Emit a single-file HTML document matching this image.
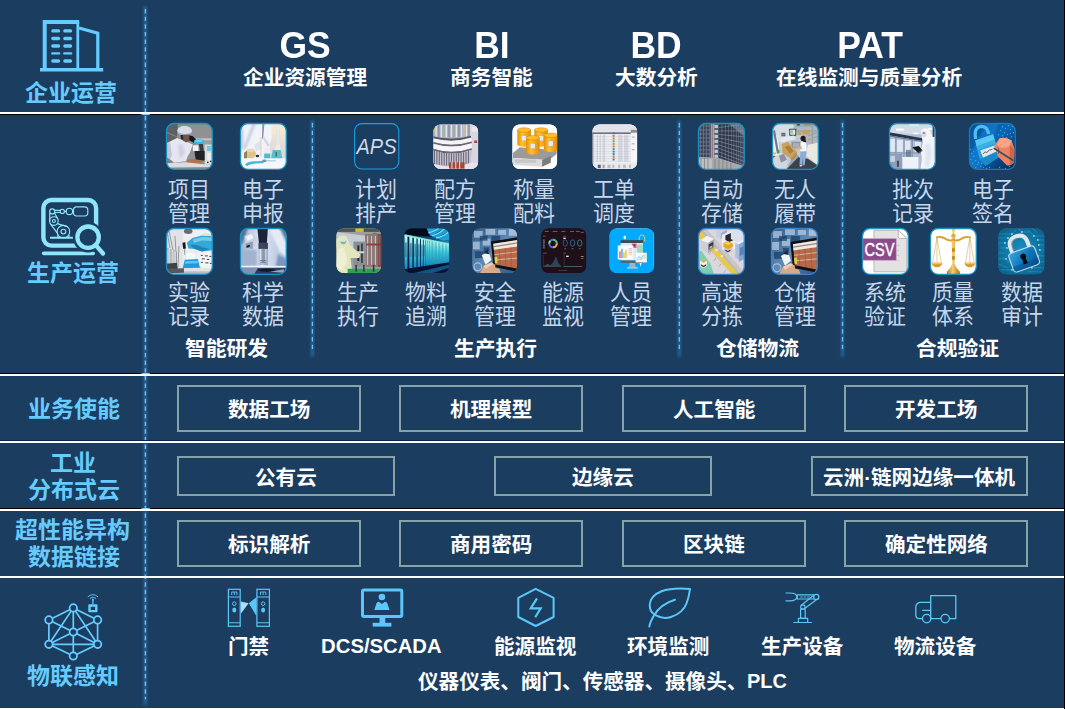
<!DOCTYPE html>
<html lang="zh"><head><meta charset="utf-8"><title>Industrial platform architecture</title>
<style>
html,body{margin:0;padding:0;background:#1b3d60;}
body{width:1065px;height:709px;overflow:hidden;position:relative;font-family:"Liberation Sans",sans-serif;}
#s{position:absolute;left:0;top:0;width:1065px;height:709px;background:#1b3d60;overflow:hidden}
.ln{position:absolute;left:0;width:1064px}
.t{position:absolute;overflow:visible}
.ov{position:absolute;left:0;top:0}
.lat{position:absolute;width:300px;text-align:center;color:#fff;font-weight:bold;line-height:1;white-space:nowrap;font-family:"Liberation Sans",sans-serif}
.bx{position:absolute;border:2px solid #88a3a8}
text.cb{font-family:"Liberation Sans","Noto Sans CJK SC",sans-serif;font-weight:bold;font-size:1000px}
text.cr{font-family:"Liberation Sans","Noto Sans CJK SC",sans-serif;font-weight:normal;font-size:1000px}
</style></head>
<body>
<svg width="0" height="0" style="position:absolute"><defs>
<clipPath id="cp"><rect x=".5" y=".5" width="46" height="46" rx="7.5"/></clipPath>
<filter id="f0" x="-20%" y="-20%" width="140%" height="140%"><feGaussianBlur stdDeviation=".5"/></filter>
<filter id="f1" x="-30%" y="-30%" width="160%" height="160%"><feGaussianBlur stdDeviation="1.3"/></filter>
<linearGradient id="gx1" x1="0" y1="0" x2="1" y2="1"><stop offset="0" stop-color="#7d8186"/><stop offset="1" stop-color="#a7a9ad"/></linearGradient>
<linearGradient id="gx2" x1="0" y1="0" x2="0" y2="1"><stop offset="0" stop-color="#fbeed4"/><stop offset=".5" stop-color="#eadfd6"/><stop offset="1" stop-color="#ddd5d6"/></linearGradient>
<linearGradient id="gdr" x1="0" y1="0" x2="1" y2="0"><stop offset="0" stop-color="#e98f00"/><stop offset=".35" stop-color="#ffc230"/><stop offset="1" stop-color="#e58a00"/></linearGradient>
<linearGradient id="gx7" x1="0" y1="0" x2="1" y2="0"><stop offset="0" stop-color="#4e5a6e"/><stop offset=".35" stop-color="#5a677c"/><stop offset="1" stop-color="#2b3546"/></linearGradient>
<linearGradient id="gx10" x1="0" y1="0" x2="1" y2="1"><stop offset="0" stop-color="#084c90"/><stop offset=".45" stop-color="#0c66b6"/><stop offset="1" stop-color="#052450"/></linearGradient>
<linearGradient id="gx12" x1="0" y1="0" x2="1" y2="0"><stop offset="0" stop-color="#a3b4d3"/><stop offset=".45" stop-color="#dfe6f3"/><stop offset="1" stop-color="#aebdda"/></linearGradient>
<linearGradient id="gx12c" x1="0" y1="0" x2="1" y2="0"><stop offset="0" stop-color="#a9b6d0"/><stop offset=".35" stop-color="#f4f6fb"/><stop offset=".7" stop-color="#cdd6e7"/><stop offset="1" stop-color="#8f9fbf"/></linearGradient>
<linearGradient id="gx14" x1="0" y1="0" x2="1" y2="0"><stop offset="0" stop-color="#071a3c"/><stop offset="1" stop-color="#1c6a9c"/></linearGradient>
<linearGradient id="gx14b" x1="0" y1="0" x2="0" y2="1"><stop offset="0" stop-color="#c9fff6"/><stop offset=".45" stop-color="#3fcfe0"/><stop offset="1" stop-color="#1787c0"/></linearGradient>
<linearGradient id="gx15" x1="0" y1="0" x2="1" y2="1"><stop offset="0" stop-color="#2f5988"/><stop offset=".5" stop-color="#5f8ab6"/><stop offset="1" stop-color="#2c5486"/></linearGradient>
<linearGradient id="gx21" x1="0" y1="0" x2="1" y2="0"><stop offset="0" stop-color="#b87a18"/><stop offset=".45" stop-color="#f4cf6a"/><stop offset="1" stop-color="#b07214"/></linearGradient>
<radialGradient id="gx22" cx=".5" cy=".5" r=".75"><stop offset="0" stop-color="#1b94c4"/><stop offset="1" stop-color="#095680"/></radialGradient>
<linearGradient id="gx22b" x1="0" y1="0" x2="1" y2="1"><stop offset="0" stop-color="#35a8e0"/><stop offset=".5" stop-color="#0f78bc"/><stop offset="1" stop-color="#0a4f8c"/></linearGradient>

</defs></svg>
<div id="s">
<svg class="ov" width="1065" height="709" viewBox="0 0 1065 709">
<line x1="145.4" y1="8" x2="145.4" y2="703.3" stroke="#3f8fcc" stroke-opacity=".16" stroke-width="5.85" stroke-linecap="round"/><line x1="145.4" y1="8.5" x2="145.4" y2="702.3" stroke="#3f8fcc" stroke-opacity=".22" stroke-width="3.35" stroke-linecap="round"/><line x1="145.4" y1="9" x2="145.4" y2="699.3" stroke="#5ec8fa" stroke-width="1.35" stroke-dasharray="4.4 3.243"/>
<line x1="312.4" y1="122" x2="312.4" y2="355" stroke="#3f8fcc" stroke-opacity=".16" stroke-width="5.75" stroke-linecap="round"/><line x1="312.4" y1="122.5" x2="312.4" y2="354" stroke="#3f8fcc" stroke-opacity=".22" stroke-width="3.25" stroke-linecap="round"/><line x1="312.4" y1="123" x2="312.4" y2="351" stroke="#5ec8fa" stroke-width="1.25" stroke-dasharray="4.4 3.243"/>
<line x1="679.3" y1="122" x2="679.3" y2="355" stroke="#3f8fcc" stroke-opacity=".16" stroke-width="5.75" stroke-linecap="round"/><line x1="679.3" y1="122.5" x2="679.3" y2="354" stroke="#3f8fcc" stroke-opacity=".22" stroke-width="3.25" stroke-linecap="round"/><line x1="679.3" y1="123" x2="679.3" y2="351" stroke="#5ec8fa" stroke-width="1.25" stroke-dasharray="4.4 3.243"/>
<line x1="842.5" y1="122" x2="842.5" y2="355" stroke="#3f8fcc" stroke-opacity=".16" stroke-width="5.75" stroke-linecap="round"/><line x1="842.5" y1="122.5" x2="842.5" y2="354" stroke="#3f8fcc" stroke-opacity=".22" stroke-width="3.25" stroke-linecap="round"/><line x1="842.5" y1="123" x2="842.5" y2="351" stroke="#5ec8fa" stroke-width="1.25" stroke-dasharray="4.4 3.243"/>
</svg>
<div class="ln" style="top:112px;height:2px;background:#fff"></div>
<div class="ln" style="top:114px;height:1px;background:#000"></div>
<div class="ln" style="top:373px;height:1px;background:#000"></div>
<div class="ln" style="top:374px;height:2px;background:#fff"></div>
<div class="ln" style="top:440px;height:1px;background:#0a2450"></div>
<div class="ln" style="top:441px;height:2px;background:#fff"></div>
<div class="ln" style="top:508px;height:1px;background:#000"></div>
<div class="ln" style="top:509px;height:2px;background:#fff"></div>
<div class="ln" style="top:576px;height:2px;background:#fff"></div>
<div class="ln" style="top:708px;height:1px;background:#fff"></div>
<div style="position:absolute;left:1064px;top:0;width:1px;height:709px;background:#000"></div>
<div style="position:absolute;left:141px;top:114px;width:9px;height:1px;background:linear-gradient(90deg,#2a6aa0,#7fd6ff 30%,#7fd6ff 70%,#18c8d8)"></div>
<div style="position:absolute;left:141px;top:373px;width:9px;height:1px;background:linear-gradient(90deg,#2a6aa0,#7fd6ff 30%,#7fd6ff 70%,#18c8d8)"></div>
<div style="position:absolute;left:141px;top:508px;width:9px;height:1px;background:linear-gradient(90deg,#2a6aa0,#7fd6ff 30%,#7fd6ff 70%,#18c8d8)"></div>
<svg class="t" style="left:25.30px;top:77.54px" width="92.00" height="28.52" viewBox="0 -1000 4000 1240" preserveAspectRatio="none"><text class="cb" x="0" y="0" fill="#66ccff">企业运营</text></svg>
<svg class="t" style="left:27.10px;top:257.54px" width="92.00" height="28.52" viewBox="0 -1000 4000 1240" preserveAspectRatio="none"><text class="cb" x="0" y="0" fill="#66ccff">生产运营</text></svg>
<svg class="t" style="left:27.60px;top:393.74px" width="92.00" height="28.52" viewBox="0 -1000 4000 1240" preserveAspectRatio="none"><text class="cb" x="0" y="0" fill="#66ccff">业务使能</text></svg>
<svg class="t" style="left:50.40px;top:447.74px" width="46.00" height="28.52" viewBox="0 -1000 2000 1240" preserveAspectRatio="none"><text class="cb" x="0" y="0" fill="#66ccff">工业</text></svg>
<svg class="t" style="left:27.60px;top:474.74px" width="92.00" height="28.52" viewBox="0 -1000 4000 1240" preserveAspectRatio="none"><text class="cb" x="0" y="0" fill="#66ccff">分布式云</text></svg>
<svg class="t" style="left:15.30px;top:514.74px" width="115.00" height="28.52" viewBox="0 -1000 5000 1240" preserveAspectRatio="none"><text class="cb" x="0" y="0" fill="#66ccff">超性能异构</text></svg>
<svg class="t" style="left:27.60px;top:541.74px" width="92.00" height="28.52" viewBox="0 -1000 4000 1240" preserveAspectRatio="none"><text class="cb" x="0" y="0" fill="#66ccff">数据链接</text></svg>
<svg class="t" style="left:27.10px;top:660.74px" width="92.00" height="28.52" viewBox="0 -1000 4000 1240" preserveAspectRatio="none"><text class="cb" x="0" y="0" fill="#66ccff">物联感知</text></svg>
<div class="lat" style="left:155.10px;top:26.80px;font-size:37.33px;transform:scaleX(.95);">GS</div>
<div class="lat" style="left:341.70px;top:26.80px;font-size:37.33px;transform:scaleX(.95);">BI</div>
<div class="lat" style="left:506.00px;top:26.80px;font-size:37.33px;transform:scaleX(.95);">BD</div>
<div class="lat" style="left:720.00px;top:26.80px;font-size:37.33px;transform:scaleX(.95);">PAT</div>
<svg class="t" style="left:242.90px;top:63.87px" width="124.20" height="25.67" viewBox="0 -1000 6000 1240" preserveAspectRatio="none"><text class="cb" x="0" y="0" fill="#ffffff">企业资源管理</text></svg>
<svg class="t" style="left:450.10px;top:63.87px" width="82.80" height="25.67" viewBox="0 -1000 4000 1240" preserveAspectRatio="none"><text class="cb" x="0" y="0" fill="#ffffff">商务智能</text></svg>
<svg class="t" style="left:614.60px;top:63.87px" width="82.80" height="25.67" viewBox="0 -1000 4000 1240" preserveAspectRatio="none"><text class="cb" x="0" y="0" fill="#ffffff">大数分析</text></svg>
<svg class="t" style="left:776.35px;top:63.87px" width="186.30" height="25.67" viewBox="0 -1000 9000 1240" preserveAspectRatio="none"><text class="cb" x="0" y="0" fill="#ffffff">在线监测与质量分析</text></svg>
<svg class="t" style="left:166.15px;top:123.25px" width="46.8" height="46.8" viewBox="0 0 47 47" preserveAspectRatio="none"><g clip-path="url(#cp)"><rect width="47" height="47" fill="#8f9193"/>
<rect width="47" height="47" fill="#8f9193"/>
<path d="M0 0 H12 L11 15 L0 22z" fill="#5d6165" filter="url(#f0)"/>
<path d="M0 9 L11 14" stroke="#8a8e92" stroke-width=".8"/>
<rect x="30" y="15.400" width="17" height="2.200" fill="#c3c5c7" filter="url(#f0)"/>
<rect x="30" y="17.600" width="17" height="12" fill="#9d9fa1"/>
<path d="M1 20 L11 15 L19.800 18.500 L27 21.600 L24 30 L22 33 L20 38.500 L7 40 L0 34z" fill="#e6e6f2" filter="url(#f0)"/>
<path d="M0 22 L4 19 L6 32 L3 40 L0 40z" fill="#c4c4d6" filter="url(#f0)"/>
<path d="M12 22 L17 21 L19 30 L14 37z" fill="#cfcfe2" filter="url(#f1)"/>
<path d="M0 34 L8 39.500 L0 41z" fill="#7b7f84"/>
<ellipse cx="18.700" cy="7.900" rx="7.400" ry="4.900" fill="#d9dde9" filter="url(#f0)"/>
<path d="M12 9 Q18 13 25 9.500 L25 11 Q18 14.500 12.500 11z" fill="#a9b1c2" filter="url(#f0)"/>
<path d="M15.500 12 L23.500 11.500 L24 18 L20 19.500 L16.500 17z" fill="#6f5549" filter="url(#f0)"/>
<path d="M14.500 12 L17 12 L17.500 17 L15 16z" fill="#2c2624"/>
<path d="M23.400 12.200 L27 13.200 L30.200 16.500 L27.800 19.900 L23.400 17.400z" fill="#15171d"/>
<ellipse cx="33" cy="18.800" rx="5.200" ry="2.500" fill="#2fb0e0"/>
<ellipse cx="33" cy="18" rx="4" ry="1.300" fill="#6fd3f2"/>
<rect x="27" y="22.300" width="5.500" height="6" rx="1" fill="#f1f1f8" filter="url(#f0)"/>
<path d="M33 21 L37 21 L38 28 L34 28z" fill="#3a3e44"/>
<rect x="38.800" y="21.600" width="7.200" height="20" fill="#d9dddc"/>
<rect x="41" y="23" width="4.500" height="5.200" fill="#74c9e2"/>
<rect x="41.500" y="30" width="3.500" height="8" fill="#eceeed"/>
<circle cx="42" cy="39.500" r=".8" fill="#1c1c20"/><circle cx="45" cy="38.500" r=".8" fill="#1c1c20"/>
<path d="M28.500 28.200 H38.800 V37.700 H30z" fill="#202428" filter="url(#f0)"/>
<path d="M21.200 38 Q24 35.500 29 36.500 L36 37.500 L35.500 41 L22 41.400z" fill="#b1714f" filter="url(#f0)"/>
<path d="M0 40.500 L20 39.300 L38 41.400 L47 41.400 L47 44.500 L0 45z" fill="#dcdce0"/>
<path d="M0 45 L47 44.500 V47 H0z" fill="#8e9688"/>
</g><rect x=".5" y=".5" width="46" height="46" rx="7.5" fill="none" stroke="#1f8fc0" stroke-width="1.300"/></svg>
<svg class="t" style="left:168.15px;top:174.78px" width="42.00" height="27.34" viewBox="0 -1000 2000 1240" preserveAspectRatio="none"><text class="cr" x="0" y="0" fill="#c6d6ea">项目</text></svg>
<svg class="t" style="left:168.15px;top:198.88px" width="42.00" height="27.34" viewBox="0 -1000 2000 1240" preserveAspectRatio="none"><text class="cr" x="0" y="0" fill="#c6d6ea">管理</text></svg>
<svg class="t" style="left:240.30px;top:123.25px" width="46.8" height="46.8" viewBox="0 0 47 47" preserveAspectRatio="none"><g clip-path="url(#cp)"><rect width="47" height="47" fill="#eef0f7"/>
<rect width="47" height="47" fill="#eef0f7"/>
<rect x="30" y="0" width="17" height="36" fill="url(#gx2)"/>
<path d="M0 0 H31 L32 14 L29 24 L31 30 L20 35 L0 36z" fill="#f1f3f9"/>
<path d="M13 0 L16 0 L9 18 L5 27 L3 26z" fill="#c3cbe2" filter="url(#f1)"/>
<path d="M0 6 L3 4 L4 24 L0 30z" fill="#c9d0e3" filter="url(#f1)"/>
<path d="M22.500 1 L24.500 1 L23.300 15 L22 16z" fill="#8a92aa" filter="url(#f0)"/>
<path d="M24 13 L30 22 L28 24 L23 16z" fill="#d3d9ea" filter="url(#f0)"/>
<path d="M14 22 L20 18 L22 26 L16 28z" fill="#dfe3f0" filter="url(#f0)"/>
<path d="M37.200 7 L39.200 7 L39.800 22 L42.500 36 L31.200 36 L36.600 22z" fill="#e6f1f2" opacity=".85"/>
<path d="M32.800 27 L41 27 L42.500 36 L31.200 36z" fill="#58bfd0"/>
<rect x="35.700" y="29" width="1.300" height="4.500" fill="#6b5a3a"/>
<path d="M37.200 7 V22 M39.200 7 V22" stroke="#cfdadd" stroke-width=".5"/>
<rect x="24.300" y="25.500" width="6" height="10.500" fill="#e4eef2" opacity=".9"/>
<rect x="24.300" y="30.700" width="6" height="5.300" fill="#52b9d1"/>
<rect x="20.600" y="14.300" width=".9" height="19" fill="#d9c9a6"/>
<ellipse cx="10.500" cy="31" rx="5.400" ry="4.800" fill="#dfc189" filter="url(#f0)"/>
<ellipse cx="11" cy="27.500" rx="3.500" ry="1.800" fill="#ecd7b0" filter="url(#f0)"/>
<path d="M4 30 L7 28 L7 36 L4 36z" fill="#8d8460" filter="url(#f0)"/>
<rect x="0" y="35.500" width="47" height="11.500" fill="#f5f7fb"/>
<ellipse cx="17.500" cy="33.200" rx="1.800" ry="1.200" fill="#2f3640"/>
<path d="M5 41.500 Q9 37.800 17 38.500 L23 38 Q25 39.500 23 40.500 L16 40.800 Q9 41.500 7 43.500z" fill="#49b7d7" filter="url(#f0)"/>
<ellipse cx="24.500" cy="38" rx="2.200" ry="1.300" fill="#8a9098"/>
<path d="M26 38 H36" stroke="#6bbfd2" stroke-width=".8"/>
</g><rect x=".5" y=".5" width="46" height="46" rx="7.5" fill="none" stroke="#1f8fc0" stroke-width="1.300"/></svg>
<svg class="t" style="left:242.30px;top:174.78px" width="42.00" height="27.34" viewBox="0 -1000 2000 1240" preserveAspectRatio="none"><text class="cr" x="0" y="0" fill="#c6d6ea">电子</text></svg>
<svg class="t" style="left:242.30px;top:198.88px" width="42.00" height="27.34" viewBox="0 -1000 2000 1240" preserveAspectRatio="none"><text class="cr" x="0" y="0" fill="#c6d6ea">申报</text></svg>
<svg class="t" style="left:353.90px;top:123.35px" width="45.4" height="46.6" viewBox="0 0 47 47" preserveAspectRatio="none"><rect x=".6" y=".6" width="45.8" height="45.8" rx="7.5" fill="none" stroke="#189fe4" stroke-width="1.1"/><text x="23.300" y="31.400" font-family="Liberation Sans, sans-serif" font-style="italic" font-size="22.200" text-anchor="middle" fill="#cfdbea" transform="translate(23.300 0) scale(.93 1) translate(-23.300 0)">APS</text></svg>
<svg class="t" style="left:355.20px;top:174.78px" width="42.00" height="27.34" viewBox="0 -1000 2000 1240" preserveAspectRatio="none"><text class="cr" x="0" y="0" fill="#c6d6ea">计划</text></svg>
<svg class="t" style="left:355.20px;top:198.88px" width="42.00" height="27.34" viewBox="0 -1000 2000 1240" preserveAspectRatio="none"><text class="cr" x="0" y="0" fill="#c6d6ea">排产</text></svg>
<svg class="t" style="left:432.85px;top:123.85px" width="45.6" height="45.6" viewBox="0 0 47 47" preserveAspectRatio="none"><g clip-path="url(#cp)"><rect width="47" height="47" fill="#b9b5c5"/>
<rect width="47" height="47" fill="#b9b5c5"/>
<rect x="0" y="0" width="40" height="14" fill="#aab0be"/>
<rect x="2.5" y="1" width="1.500" height="12.500" fill="#dfe3ea"/><rect x="5.2" y="1" width="1.500" height="12.500" fill="#8b93a6"/><rect x="7.8" y="1" width="1.500" height="12.500" fill="#dfe3ea"/><rect x="10.4" y="1" width="1.500" height="12.500" fill="#a5b79a"/><rect x="13.0" y="1" width="1.500" height="12.500" fill="#e4e7ee"/><rect x="15.6" y="1" width="1.500" height="12.500" fill="#8b93a6"/><rect x="18.2" y="1" width="1.500" height="12.500" fill="#dfe3ea"/><rect x="20.8" y="1" width="1.500" height="12.500" fill="#9db09a"/><rect x="23.4" y="1" width="1.500" height="12.500" fill="#e4e7ee"/><rect x="26.0" y="1" width="1.500" height="12.500" fill="#8b93a6"/><rect x="28.6" y="1" width="1.500" height="12.500" fill="#dfe3ea"/><rect x="31.2" y="1" width="1.500" height="12.500" fill="#c8c8a0"/><rect x="33.8" y="1" width="1.500" height="12.500" fill="#dfe3ea"/><rect x="36.4" y="1" width="1.500" height="12.500" fill="#8b93a6"/>
<rect x="0" y="5" width="2.200" height="3" fill="#d8cf3a"/>
<rect x="38" y="0" width="9" height="47" fill="#dad6de"/>
<rect x="40" y="3" width="7" height="5" fill="#efe6e8"/>
<rect x="42.500" y="17" width="3" height="2.600" fill="#a8443a"/>
<path d="M0 12.500 Q20 17.500 39 12 L39.500 14.500 Q20 20.500 0 15z" fill="#5b5565"/>
<path d="M0 14.600 Q20 20 39.500 14 L40 18 Q20 24.500 0 18.600z" fill="#f3f3f8"/>
<path d="M0 18.600 Q20 24.500 40 18 L40 19.800 Q20 26.300 0 20.400z" fill="#6a6474"/>
<path d="M0 20.400 Q20 26.300 40 19.800 L40 25 Q20 32 0 25.600z" fill="#f6f6fa"/>
<path d="M0 25.600 Q20 32 40 25 L40 26.800 Q20 33.800 0 27.400z" fill="#6a6474"/>
<path d="M0 27.400 Q20 33.800 40 26.800 L39 40 Q20 47 0 41z" fill="#c5c1cf"/>
<path d="M1.5 27.5 V41.5" stroke="#4f4a5c" stroke-width=".8"/><path d="M4.0 28.1 V41.9" stroke="#4f4a5c" stroke-width=".8"/><path d="M6.5 28.7 V42.2" stroke="#4f4a5c" stroke-width=".8"/><path d="M9.0 29.2 V42.5" stroke="#4f4a5c" stroke-width=".8"/><path d="M11.5 29.6 V42.8" stroke="#4f4a5c" stroke-width=".8"/><path d="M14.0 29.9 V42.9" stroke="#4f4a5c" stroke-width=".8"/><path d="M16.5 30.1 V43.1" stroke="#4f4a5c" stroke-width=".8"/><path d="M19.0 30.2 V43.1" stroke="#4f4a5c" stroke-width=".8"/><path d="M21.5 30.2 V43.1" stroke="#4f4a5c" stroke-width=".8"/><path d="M24.0 30.1 V43.1" stroke="#4f4a5c" stroke-width=".8"/><path d="M26.5 29.9 V42.9" stroke="#4f4a5c" stroke-width=".8"/><path d="M29.0 29.6 V42.8" stroke="#4f4a5c" stroke-width=".8"/><path d="M31.5 29.2 V42.5" stroke="#4f4a5c" stroke-width=".8"/><path d="M34.0 28.7 V42.2" stroke="#4f4a5c" stroke-width=".8"/><path d="M36.5 28.1 V41.9" stroke="#4f4a5c" stroke-width=".8"/>
<path d="M0 41 Q20 47 39 40 L47 40 L47 47 L0 47z" fill="#e6e4ea"/>
<rect x="16.500" y="39.500" width="16" height="6.500" fill="#a2483a" filter="url(#f0)"/>
<g fill="#e9e6ec"><rect x="19" y="39" width="1" height="7"/><rect x="23" y="39" width="1" height="7"/><rect x="27" y="39" width="1" height="7"/></g>
</g></svg>
<svg class="t" style="left:434.25px;top:174.78px" width="42.00" height="27.34" viewBox="0 -1000 2000 1240" preserveAspectRatio="none"><text class="cr" x="0" y="0" fill="#c6d6ea">配方</text></svg>
<svg class="t" style="left:434.25px;top:198.88px" width="42.00" height="27.34" viewBox="0 -1000 2000 1240" preserveAspectRatio="none"><text class="cr" x="0" y="0" fill="#c6d6ea">管理</text></svg>
<svg class="t" style="left:511.90px;top:123.85px" width="45.6" height="45.6" viewBox="0 0 47 47" preserveAspectRatio="none"><g clip-path="url(#cp)"><rect width="47" height="47" fill="#fff"/>
<rect width="47" height="47" fill="#fdfdfd"/>
<path d="M1 30 L8 24 L46 27 L46 31 L38 37 L1 35z" fill="#9b9b9b"/>
<path d="M1 35 L31 37 L31 44 L1 42z" fill="#dcdcdc"/>
<path d="M31 37 L40 33 L40 40 L31 44z" fill="#7d7d7d"/>
<rect x="3" y="36.500" width="22" height="3.500" fill="#bdbdbd" opacity=".7"/>
<path d="M5.5 6.2 V21 A7 2.4 0 0 0 19.5 21 V6.2z" fill="url(#gdr)"/><ellipse cx="12.5" cy="6.2" rx="7" ry="2.3" fill="#ffbe2e" stroke="#c98200" stroke-width=".5"/><rect x="9.8" y="12" width="5" height="5.400" fill="#e9e9ee" stroke="#9a9aa6" stroke-width=".3"/><path d="M23 6.2 V21 A7 2.4 0 0 0 37 21 V6.2z" fill="url(#gdr)"/><ellipse cx="30" cy="6.2" rx="7" ry="2.3" fill="#ffbe2e" stroke="#c98200" stroke-width=".5"/><rect x="27.3" y="12" width="5" height="5.400" fill="#e9e9ee" stroke="#9a9aa6" stroke-width=".3"/><path d="M33 11.7 V26.5 A7 2.4 0 0 0 47 26.5 V11.7z" fill="url(#gdr)"/><ellipse cx="40" cy="11.7" rx="7" ry="2.3" fill="#ffbe2e" stroke="#c98200" stroke-width=".5"/><rect x="37.3" y="17.5" width="5" height="5.400" fill="#e9e9ee" stroke="#9a9aa6" stroke-width=".3"/><path d="M14.5 14.2 V29 A7 2.4 0 0 0 28.5 29 V14.2z" fill="url(#gdr)"/><ellipse cx="21.5" cy="14.2" rx="7" ry="2.3" fill="#ffbe2e" stroke="#c98200" stroke-width=".5"/><rect x="18.8" y="20" width="5" height="5.400" fill="#e9e9ee" stroke="#9a9aa6" stroke-width=".3"/></g></svg>
<svg class="t" style="left:513.30px;top:174.78px" width="42.00" height="27.34" viewBox="0 -1000 2000 1240" preserveAspectRatio="none"><text class="cr" x="0" y="0" fill="#c6d6ea">称量</text></svg>
<svg class="t" style="left:513.30px;top:198.88px" width="42.00" height="27.34" viewBox="0 -1000 2000 1240" preserveAspectRatio="none"><text class="cr" x="0" y="0" fill="#c6d6ea">配料</text></svg>
<svg class="t" style="left:591.55px;top:123.85px" width="45.6" height="45.6" viewBox="0 0 47 47" preserveAspectRatio="none"><g clip-path="url(#cp)"><rect width="47" height="47" fill="#eceef2"/>
<rect width="47" height="47" fill="#eceef2"/>
<rect x="0" y="0" width="47" height="8" fill="#e2e4ea"/>
<rect x="0" y="8.6" width="40" height="1.700" fill="#6e727c"/>
<rect x="0" y="9" width="1.3" height="34" fill="#50545c"/>
<rect x="2" y="13" width="41" height=".5" fill="#c9ccd3"/><rect x="2" y="15.5" width="41" height=".5" fill="#c9ccd3"/><rect x="2" y="18" width="41" height=".5" fill="#c9ccd3"/><rect x="2" y="20.5" width="41" height=".5" fill="#c9ccd3"/><rect x="2" y="23" width="41" height=".5" fill="#c9ccd3"/><rect x="2" y="25.5" width="41" height=".5" fill="#c9ccd3"/><rect x="2" y="28" width="41" height=".5" fill="#c9ccd3"/><rect x="2" y="30.5" width="41" height=".5" fill="#c9ccd3"/><rect x="2" y="33" width="41" height=".5" fill="#c9ccd3"/><rect x="2" y="35.5" width="41" height=".5" fill="#c9ccd3"/><rect x="2" y="38" width="41" height=".5" fill="#c9ccd3"/>
<g fill="#b9bcc6"><rect x="5" y="11" width=".7" height="28"/><rect x="8" y="11" width=".7" height="28"/><rect x="11" y="11" width="2.5" height="28" opacity=".5"/><rect x="27" y="11" width="4.500" height="28" opacity=".45"/><rect x="33" y="11" width="4.500" height="28" opacity=".45"/></g>
<rect x="21.300" y="8.5" width="2" height="2.1" fill="#3a78c8"/><rect x="21.300" y="11.2" width="2" height="2.1" fill="#e8772e"/><rect x="21.300" y="13.9" width="2" height="2.1" fill="#e8772e"/><rect x="21.300" y="16.6" width="2" height="2.1" fill="#3fbf8f"/><rect x="21.300" y="19.3" width="2" height="2.1" fill="#e8772e"/><rect x="21.300" y="22.0" width="2" height="2.1" fill="#e8772e"/><rect x="21.300" y="24.7" width="2" height="2.1" fill="#3aa85a"/><rect x="21.300" y="27.4" width="2" height="2.1" fill="#3a78c8"/><rect x="21.300" y="30.1" width="2" height="2.1" fill="#3a78c8"/><rect x="21.300" y="32.8" width="2" height="2.1" fill="#e8772e"/><rect x="21.300" y="35.5" width="2" height="2.1" fill="#3a78c8"/>
<rect x="40" y="6" width="7" height="3" fill="#8a8e98"/>
<rect x="40" y="10" width="7" height="30" fill="#f4f5f8"/>
<rect x="41" y="13" width="3" height="1" fill="#b0a890"/><rect x="41" y="20" width="3" height="1" fill="#b0a890"/><rect x="41" y="26" width="3" height="1" fill="#b0a890"/>
<rect x="0" y="40.500" width="47" height="6.500" fill="#e7e9ee"/>
<g fill="#9a9ea8"><rect x="6" y="42" width="3" height="3.500" fill="#5c606a"/><rect x="11" y="42" width="2" height="3.500"/><rect x="16" y="42" width="3" height="3.500" opacity=".6"/><rect x="21" y="42" width="2" height="3.500" opacity=".6"/><rect x="27" y="42" width="2" height="3.500" opacity=".6"/><rect x="32" y="42" width="3" height="3.500" opacity=".6"/><rect x="38" y="42" width="2" height="3.500" opacity=".6"/></g>
</g></svg>
<svg class="t" style="left:592.95px;top:174.78px" width="42.00" height="27.34" viewBox="0 -1000 2000 1240" preserveAspectRatio="none"><text class="cr" x="0" y="0" fill="#c6d6ea">工单</text></svg>
<svg class="t" style="left:592.95px;top:198.88px" width="42.00" height="27.34" viewBox="0 -1000 2000 1240" preserveAspectRatio="none"><text class="cr" x="0" y="0" fill="#c6d6ea">调度</text></svg>
<svg class="t" style="left:697.95px;top:123.25px" width="46.8" height="46.8" viewBox="0 0 47 47" preserveAspectRatio="none"><g clip-path="url(#cp)"><rect width="47" height="47" fill="#4a5568"/>
<rect width="47" height="47" fill="url(#gx7)"/>
<rect x="0" y="0" width="12.500" height="36" fill="#3b4459"/>
<path d="M0 3 H12.500" stroke="#8f9bb0" stroke-width=".7" opacity=".8"/><path d="M0 7 H12.500" stroke="#8f9bb0" stroke-width=".7" opacity=".8"/><path d="M0 11 H12.500" stroke="#8f9bb0" stroke-width=".7" opacity=".8"/><path d="M0 15 H12.500" stroke="#8f9bb0" stroke-width=".7" opacity=".8"/><path d="M0 19 H12.500" stroke="#8f9bb0" stroke-width=".7" opacity=".8"/><path d="M0 23 H12.500" stroke="#8f9bb0" stroke-width=".7" opacity=".8"/><path d="M0 27 H12.500" stroke="#8f9bb0" stroke-width=".7" opacity=".8"/><path d="M0 31 H12.500" stroke="#8f9bb0" stroke-width=".7" opacity=".8"/><path d="M0 35 H12.500" stroke="#8f9bb0" stroke-width=".7" opacity=".8"/><path d="M2.5 0 V36" stroke="#7d889d" stroke-width=".7" opacity=".8"/><path d="M5.5 0 V36" stroke="#7d889d" stroke-width=".7" opacity=".8"/><path d="M8.5 0 V36" stroke="#7d889d" stroke-width=".7" opacity=".8"/><path d="M11.5 0 V36" stroke="#7d889d" stroke-width=".7" opacity=".8"/>
<rect x="12.500" y="0" width="8.500" height="38" fill="#566275"/>
<g fill="#cfdcea" opacity=".85"><rect x="16.500" y="2" width="3.500" height="3"/><rect x="16.500" y="7" width="3.500" height="3"/><rect x="16.500" y="12" width="3.500" height="3"/><rect x="16.500" y="17" width="3.500" height="3"/><rect x="16.500" y="22" width="3.500" height="3"/><rect x="16.500" y="27" width="3.500" height="3"/><rect x="16.500" y="32" width="3.500" height="3"/></g>
<rect x="13" y="0" width="1.200" height="38" fill="#a9b3c6" opacity=".8"/>
<rect x="14.600" y="0" width="1.700" height="39" fill="#d4968c"/>
<path d="M21 0 H47 V44 L21 35z" fill="#2c3547"/>
<path d="M30 0 H47 V14z" fill="#8a94a6" opacity=".6" filter="url(#f0)"/>
<path d="M21 1 L47 -6" stroke="#98a3b6" stroke-width=".8" opacity=".7"/><path d="M21 4.5 L47 1" stroke="#98a3b6" stroke-width=".8" opacity=".7"/><path d="M21 8 L47 8" stroke="#98a3b6" stroke-width=".8" opacity=".7"/><path d="M21 11.5 L47 14" stroke="#98a3b6" stroke-width=".8" opacity=".7"/><path d="M21 15 L47 20" stroke="#98a3b6" stroke-width=".8" opacity=".7"/><path d="M21 18.5 L47 25.5" stroke="#98a3b6" stroke-width=".8" opacity=".7"/><path d="M21 22 L47 30.5" stroke="#98a3b6" stroke-width=".8" opacity=".7"/><path d="M21 25.5 L47 35" stroke="#98a3b6" stroke-width=".8" opacity=".7"/><path d="M21 29 L47 39" stroke="#98a3b6" stroke-width=".8" opacity=".7"/><path d="M21 32.5 L47 42.5" stroke="#98a3b6" stroke-width=".8" opacity=".7"/><path d="M24 0 V36" stroke="#8d98ab" stroke-width=".7" opacity=".65"/><path d="M27.5 0 V37" stroke="#8d98ab" stroke-width=".7" opacity=".65"/><path d="M30.5 0 V38" stroke="#8d98ab" stroke-width=".7" opacity=".65"/><path d="M33.5 0 V39" stroke="#8d98ab" stroke-width=".7" opacity=".65"/><path d="M36 0 V40" stroke="#8d98ab" stroke-width=".7" opacity=".65"/><path d="M38.5 0 V41" stroke="#8d98ab" stroke-width=".7" opacity=".65"/><path d="M40.5 0 V41.5" stroke="#8d98ab" stroke-width=".7" opacity=".65"/><path d="M42.5 0 V42" stroke="#8d98ab" stroke-width=".7" opacity=".65"/><path d="M44.3 0 V43" stroke="#8d98ab" stroke-width=".7" opacity=".65"/><path d="M46 0 V43" stroke="#8d98ab" stroke-width=".7" opacity=".65"/>
<path d="M0 34 L21 35.500 L47 43.500 V47 H0z" fill="#a9a9ab"/>
<path d="M0 36 L14 36.500 L14 47 L0 47z" fill="#c9c9cb" opacity=".7"/>
<g stroke="#77777b" stroke-width=".7"><path d="M3 35V47M6.500 35V47M10 35.500V47M17 36V47M21 36.500V47M25 37.500V47M29 39V47M33 40V47"/></g>
</g><rect x=".5" y=".5" width="46" height="46" rx="7.5" fill="none" stroke="#1f8fc0" stroke-width="1.300"/></svg>
<svg class="t" style="left:700.65px;top:174.78px" width="42.00" height="27.34" viewBox="0 -1000 2000 1240" preserveAspectRatio="none"><text class="cr" x="0" y="0" fill="#c6d6ea">自动</text></svg>
<svg class="t" style="left:700.65px;top:198.88px" width="42.00" height="27.34" viewBox="0 -1000 2000 1240" preserveAspectRatio="none"><text class="cr" x="0" y="0" fill="#c6d6ea">存储</text></svg>
<svg class="t" style="left:771.55px;top:123.25px" width="46.8" height="46.8" viewBox="0 0 47 47" preserveAspectRatio="none"><g clip-path="url(#cp)"><rect width="47" height="47" fill="#c3cad2"/>
<rect width="47" height="47" fill="#c3cad2"/>
<path d="M0 0 H22 L20 14 L8 19 L0 18z" fill="#d9dde2"/>
<path d="M22 0 H47 V22 L36 24 L30 12 L22 12z" fill="#aeb6c0"/>
<g stroke="#8d97a3" stroke-width=".8"><path d="M24 3 H45 M25 8 H45 M36 13 L47 9 M36 17 L47 13"/></g>
<rect x="25" y="0" width="3" height="2.500" fill="#3a3f46"/><rect x="32" y="0" width="8" height="2.600" fill="#b9934f"/>
<rect x="31" y="6.900" width="6.800" height="4.500" fill="#c9a15f"/>
<rect x="26" y="8" width="3" height="4" fill="#c0a46c"/>
<rect x="39.700" y="0" width="1.600" height="31" fill="#9aa3ad"/>
<rect x="38.500" y="15.500" width="1.500" height="2.500" fill="#d9b23a"/><rect x="36" y="22.500" width="2" height="2" fill="#d9b23a"/>
<rect x="17.400" y="5.800" width="6.900" height="6.900" rx=".5" fill="#2f3740"/>
<rect x="18.300" y="6.700" width="5.100" height="5.100" fill="#dfeaf2"/><rect x="19" y="7.500" width="2" height="3" fill="#7fc2a8"/>
<rect x="9.500" y="9.900" width="3.900" height="3.400" fill="#48525c"/><rect x="10.200" y="10.600" width="2.500" height="2" fill="#5f9aa0"/>
<path d="M8 15 L22 12.500 L24 16 L9 20z" fill="#e4e7eb"/>
<path d="M0 14 L6 12 L8 34 L0 38z" fill="#e9ecf0"/>
<path d="M1 8 L3 7 L7 30 L5 31z" fill="#707a86"/>
<rect x="5" y="27" width="2.600" height="3.400" fill="#3fa552"/><rect x="1" y="33" width="2.600" height="2.600" fill="#c9423a"/><rect x="1" y="29.500" width="3" height="2" fill="#d9c25a"/>
<rect x="19.600" y="18.800" width="9" height="6.200" fill="#8a94a4"/>
<path d="M21 20 H27.500 V24 H21z" fill="#a5aebb"/>
<path d="M9.900 21 L15.800 18.800 L24.800 28.500 L18.800 36 L10.600 30z" fill="#c9a159"/>
<path d="M13 24 L17 22.500 L22 28.500 L18 31z" fill="#a9803f"/>
<path d="M18.800 36 L24.800 28.500 L25 33 L19.500 39z" fill="#b38a48"/>
<path d="M0 36 L9 30 L16 36 L14 47 L0 47z" fill="#d3d8dd"/>
<path d="M7 33 L12 31 L15 37 L9 40z" fill="#8a93a3"/>
<path d="M14 47 L19 38 L26 32 L28 36 L20 47z" fill="#9aa4b0"/>
<path d="M36 21.800 L47 19.500 V43 L34.500 33z" fill="#e9e9e2"/>
<path d="M14.300 47 L26.300 34.500 L36 36 L47 43.500 V47z" fill="#38414d"/>
<ellipse cx="31.200" cy="15.600" rx="2.600" ry="2.700" fill="#1f1a19"/>
<path d="M32 16 L34.500 18 L33.500 21 L31 19z" fill="#1f1a19"/>
<path d="M28.800 19.500 Q31 18 34.300 19.500 L34.800 28.500 L28.500 28.800z" fill="#f4f5f7"/>
<path d="M29.500 23 L20.500 25.300 L20.800 26.800 L30 26z" fill="#d8a98a"/>
<path d="M28.500 28.500 L34.800 28.300 L33.500 37 L32.800 42.500 L30.500 42.500 L31 35 L30 42 L27.600 41.600z" fill="#8fadd3"/>
<ellipse cx="29" cy="43" rx="1.500" ry=".7" fill="#e9e9ee"/>
</g><rect x=".5" y=".5" width="46" height="46" rx="7.5" fill="none" stroke="#1f8fc0" stroke-width="1.300"/></svg>
<svg class="t" style="left:774.25px;top:174.78px" width="42.00" height="27.34" viewBox="0 -1000 2000 1240" preserveAspectRatio="none"><text class="cr" x="0" y="0" fill="#c6d6ea">无人</text></svg>
<svg class="t" style="left:774.25px;top:198.88px" width="42.00" height="27.34" viewBox="0 -1000 2000 1240" preserveAspectRatio="none"><text class="cr" x="0" y="0" fill="#c6d6ea">履带</text></svg>
<svg class="t" style="left:889.40px;top:123.25px" width="46.8" height="46.8" viewBox="0 0 47 47" preserveAspectRatio="none"><g clip-path="url(#cp)"><rect width="47" height="47" fill="#bcc8da"/>
<rect width="47" height="47" fill="#bcc8da"/>
<path d="M0 0 H47 V12 L0 10z" fill="#d3dbe8"/>
<rect x="7" y="5.500" width="8" height="2.200" rx="1" fill="#fbfdff" filter="url(#f0)"/><rect x="20" y=".5" width="10" height="2" rx="1" fill="#fbfdff" filter="url(#f0)"/><rect x="24" y="9.500" width="6" height="1.800" rx=".9" fill="#f4f8fd" filter="url(#f0)"/><rect x="39" y="5" width="5" height="2" fill="#f4f8fd" filter="url(#f0)"/>
<rect x="0" y="12" width="34" height="35" fill="#aebcd2"/>
<g fill="#dfe7f2" filter="url(#f0)"><rect x="1" y="16" width="5" height="13"/><rect x="8" y="17" width="6" height="12"/><rect x="16" y="18" width="5.500" height="11"/><rect x="26" y="19" width="6" height="10"/></g>
<g fill="#7f91ac" opacity=".85"><rect x="6.300" y="14" width="1.200" height="33"/><rect x="14.500" y="15" width="1.200" height="32"/><rect x="22.500" y="16" width="1.500" height="24"/><rect x="0" y="29.500" width="34" height="1"/></g>
<path d="M0 9.300 L33.500 15.200 L33.500 18 L0 12.300z" fill="#283448"/>
<path d="M0 12.300 L33.500 18 L33.500 19 L0 13.500z" fill="#6a7c98"/>
<rect x="0" y="31" width="13" height="16" fill="#8f9fb8" filter="url(#f0)"/>
<rect x="8" y="38" width="2" height="6" fill="#3d485c"/><rect x="1" y="33" width="5" height="6" fill="#c5d0e0" filter="url(#f0)"/>
<rect x="17" y="27" width="5" height="7" fill="#5d6d88" opacity=".7" filter="url(#f0)"/>
<rect x="13.500" y="34.500" width="16" height="12.500" fill="#eef1f7"/>
<rect x="13.500" y="34.500" width="16" height="1" fill="#fafbfe"/>
<path d="M32 8 Q34 4.500 38 5.500 Q41 6.500 42 11 L47 15 V47 H31.500 L33 36 L32 28 L34 20 L33 13z" fill="#f2f4f9"/>
<path d="M36 22 L41 20 L43 32 L40 44 L36 44 L37 32z" fill="#dfe4ee" filter="url(#f1)"/>
<path d="M33 9 Q35.500 7.500 37.500 9.500 L37.500 13.500 Q35.500 15 33.300 13.500z" fill="#d9dde8"/>
<ellipse cx="35" cy="10" rx="1.500" ry="1" fill="#a98a7c"/>
<rect x="43.800" y="2" width="2" height="12" fill="#39445a"/>
<path d="M23.300 24.300 L30 23 L33.200 27 L29 29.800z" fill="#14171d"/>
<path d="M29 29.800 L33.200 27 L33.800 27.800 L29.500 30.800z" fill="#3a4150"/>
</g><rect x=".5" y=".5" width="46" height="46" rx="7.5" fill="none" stroke="#1f8fc0" stroke-width="1.300"/></svg>
<svg class="t" style="left:892.10px;top:174.78px" width="42.00" height="27.34" viewBox="0 -1000 2000 1240" preserveAspectRatio="none"><text class="cr" x="0" y="0" fill="#c6d6ea">批次</text></svg>
<svg class="t" style="left:892.10px;top:198.88px" width="42.00" height="27.34" viewBox="0 -1000 2000 1240" preserveAspectRatio="none"><text class="cr" x="0" y="0" fill="#c6d6ea">记录</text></svg>
<svg class="t" style="left:968.90px;top:123.25px" width="46.8" height="46.8" viewBox="0 0 47 47" preserveAspectRatio="none"><g clip-path="url(#cp)"><rect width="47" height="47" fill="#0b5fa8"/>
<rect width="47" height="47" fill="url(#gx10)"/>
<path d="M18 0 L30 0 L12 47 L0 47 L0 34z" fill="#1688dc" opacity=".55" filter="url(#f1)"/>
<rect x="33" y="3" width="1.300" height="1.300" fill="#27b2f6" opacity=".85"/><rect x="36" y="5" width="1.300" height="1.300" fill="#27b2f6" opacity=".85"/><rect x="39" y="2" width="1.300" height="1.300" fill="#27b2f6" opacity=".85"/><rect x="41" y="6" width="1.300" height="1.300" fill="#27b2f6" opacity=".85"/><rect x="43" y="3" width="1.300" height="1.300" fill="#27b2f6" opacity=".85"/><rect x="35" y="9" width="1.300" height="1.300" fill="#27b2f6" opacity=".85"/><rect x="38" y="11" width="1.300" height="1.300" fill="#27b2f6" opacity=".85"/><rect x="41" y="10" width="1.300" height="1.300" fill="#27b2f6" opacity=".85"/><rect x="44" y="9" width="1.300" height="1.300" fill="#27b2f6" opacity=".85"/><rect x="37" y="14" width="1.300" height="1.300" fill="#27b2f6" opacity=".85"/><rect x="42" y="13" width="1.300" height="1.300" fill="#27b2f6" opacity=".85"/><rect x="31" y="7" width="1.300" height="1.300" fill="#27b2f6" opacity=".85"/><rect x="29" y="11" width="1.300" height="1.300" fill="#27b2f6" opacity=".85"/><rect x="33" y="12" width="1.300" height="1.300" fill="#27b2f6" opacity=".85"/><rect x="2" y="30" width="1.300" height="1.300" fill="#27b2f6" opacity=".85"/><rect x="4" y="33" width="1.300" height="1.300" fill="#27b2f6" opacity=".85"/><rect x="1" y="36" width="1.300" height="1.300" fill="#27b2f6" opacity=".85"/><rect x="6" y="37" width="1.300" height="1.300" fill="#27b2f6" opacity=".85"/><rect x="3" y="40" width="1.300" height="1.300" fill="#27b2f6" opacity=".85"/><rect x="8" y="41" width="1.300" height="1.300" fill="#27b2f6" opacity=".85"/><rect x="11" y="43" width="1.300" height="1.300" fill="#27b2f6" opacity=".85"/><rect x="6" y="44" width="1.300" height="1.300" fill="#27b2f6" opacity=".85"/><rect x="14" y="44" width="1.300" height="1.300" fill="#27b2f6" opacity=".85"/><rect x="1" y="26" width="1.300" height="1.300" fill="#27b2f6" opacity=".85"/><rect x="9" y="39" width="1.300" height="1.300" fill="#27b2f6" opacity=".85"/><rect x="4" y="28" width="1.300" height="1.300" fill="#27b2f6" opacity=".85"/><rect x="12" y="40" width="1.300" height="1.300" fill="#27b2f6" opacity=".85"/><rect x="17" y="45" width="1.300" height="1.300" fill="#27b2f6" opacity=".85"/><rect x="20" y="44" width="1.300" height="1.300" fill="#27b2f6" opacity=".85"/><rect x="40" y="43" width="1.300" height="1.300" fill="#27b2f6" opacity=".85"/><rect x="36" y="45" width="1.300" height="1.300" fill="#27b2f6" opacity=".85"/><rect x="30" y="44" width="1.300" height="1.300" fill="#27b2f6" opacity=".85"/>
<path d="M6.700 16 Q4.500 4 12.500 3.300 Q18.500 3.300 19.700 11" fill="none" stroke="#49c0f0" stroke-width="3.300"/>
<path d="M6.200 17.600 L24.200 11.400 L31 33.700 L16.700 43 L10.500 36.200z" fill="#2aa2de"/>
<path d="M6.200 17.600 L24.200 11.400 L25.800 16.800 L7.600 23.600z" fill="#5cc8f2"/>
<path d="M7.600 23.600 L25.800 16.800 L26.800 20 L8.600 27z" fill="#3ab0e6"/>
<path d="M11.200 27.500 L25.400 22.500 L27.900 28.700 L14.300 35z" fill="#dfe6ee"/>
<path d="M14.300 35 L27.900 28.700 L31 33.700 L16.700 43 L10.500 36.200z" fill="#1684c6" opacity=".8"/>
<path d="M14 31 Q16 28 18 29.500 Q20 26.500 23.500 26.500" stroke="#38444f" stroke-width=".8" fill="none"/>
<path d="M25.400 22.500 L30.400 15.700 Q36 13.500 42.800 17.600 L45.800 26.300 L45.200 39.900 Q41 43.500 37.800 42.400 L29.100 33.700z" fill="#ee8163"/>
<path d="M30.400 15.700 Q36 13.500 42.800 17.600 L40 24 L32 25 L28 22z" fill="#f7a584"/>
<path d="M41 22 L45.800 26.300 L45.200 39.900 Q43 42 41 42z" fill="#d45d43" opacity=".85"/>
<path d="M29 24 Q30.500 27 29.500 31" stroke="#b9442f" stroke-width=".9" fill="none"/>
<path d="M25.400 25.600 L44 37.400" stroke="#28585c" stroke-width="1.700" stroke-linecap="round"/>
</g><rect x=".5" y=".5" width="46" height="46" rx="7.5" fill="none" stroke="#1c78b4" stroke-width="1.300"/></svg>
<svg class="t" style="left:971.60px;top:174.78px" width="42.00" height="27.34" viewBox="0 -1000 2000 1240" preserveAspectRatio="none"><text class="cr" x="0" y="0" fill="#c6d6ea">电子</text></svg>
<svg class="t" style="left:971.60px;top:198.88px" width="42.00" height="27.34" viewBox="0 -1000 2000 1240" preserveAspectRatio="none"><text class="cr" x="0" y="0" fill="#c6d6ea">签名</text></svg>
<svg class="t" style="left:166.35px;top:227.55px" width="46.8" height="46.8" viewBox="0 0 47 47" preserveAspectRatio="none"><g clip-path="url(#cp)"><rect width="47" height="47" fill="#eef0f3"/>
<rect width="47" height="47" fill="#eef0f3"/>
<rect x="0" y="0" width="17" height="47" fill="#dfe2e6" filter="url(#f1)"/>
<ellipse cx="22.300" cy="3.300" rx="4.300" ry="2.700" fill="#696d72" filter="url(#f0)"/>
<g stroke="#6f757b" stroke-width=".8" opacity=".85"><path d="M1.500 6 L4 20 M3 3 L7 22 M9 8 L10 24 M13 18 L12 40 M2 20 V44 M5 21 V44 M8 22 V44 M10.500 24 V44"/></g>
<g fill="#c9cdd2" opacity=".8"><rect x="1" y="22" width="3" height="14"/><rect x="6" y="23" width="3.500" height="14"/></g>
<path d="M0 36 L11 35 L12 44 L0 45z" fill="#3f4347" filter="url(#f0)"/>
<path d="M21 14.700 L26.500 10 L36 7.600 L47 8.200 V22.400 L36 23.500 L29 21 L22.400 20.600z" fill="#35a7d8"/>
<path d="M27 11.500 L36 9 L47 9.500 V13 L36 12.500 L28 15z" fill="#74cbea" filter="url(#f0)"/>
<path d="M24 17 Q30 16 36 19 L44 21 L36 23.500 L29 21z" fill="#1e86ba" filter="url(#f0)"/>
<path d="M36 7.600 L47 8.200 V6 L38 5.500z" fill="#d9dde2"/>
<path d="M16.500 14.700 L19.400 14.300 L20 20.600 L17.300 21z" fill="#17191c"/>
<path d="M18.200 21 L19.200 21 L19.500 27 L18.500 27z" fill="#8a9096"/>
<path d="M19.500 24.500 L29.500 24 L30.500 31 L34.500 40 L16.500 40.500 L19.500 31.500z" fill="#f6f8fa" opacity=".92" stroke="#c9cfd6" stroke-width=".4"/>
<path d="M18.800 31.800 L31.800 31.200 L34.500 39.800 L16.800 40.300z" fill="#1c9be0"/>
<path d="M19.500 33.500 L31.500 33 L32.300 35.500 L18.800 36z" fill="#62c6f4"/>
<rect x="33.500" y="25.500" width="13.500" height="13" fill="#f3f5f7"/>
<g fill="#3d4146"><rect x="35" y="27" width="2" height="1"/><rect x="39" y="27.500" width="3" height="1"/><rect x="43.500" y="28" width="2" height="1"/><rect x="36" y="30.500" width="3" height="1"/><rect x="41" y="31" width="2.500" height="1"/><rect x="35" y="34" width="2" height="1"/><rect x="39.500" y="34.500" width="3" height="1"/><rect x="44" y="35" width="2" height="1"/></g>
<rect x="12" y="40.500" width="35" height="3" fill="#dfe2e6"/>
<path d="M0 43.500 H47 V47 H0z" fill="#b9bdc2"/>
<path d="M2 41 L18 40.500 L18 45 L2 45.500z" fill="#55595e" filter="url(#f0)"/>
</g><rect x=".5" y=".5" width="46" height="46" rx="7.5" fill="none" stroke="#1f8fc0" stroke-width="1.300"/></svg>
<svg class="t" style="left:168.35px;top:278.08px" width="42.00" height="27.34" viewBox="0 -1000 2000 1240" preserveAspectRatio="none"><text class="cr" x="0" y="0" fill="#c6d6ea">实验</text></svg>
<svg class="t" style="left:168.35px;top:302.18px" width="42.00" height="27.34" viewBox="0 -1000 2000 1240" preserveAspectRatio="none"><text class="cr" x="0" y="0" fill="#c6d6ea">记录</text></svg>
<svg class="t" style="left:240.15px;top:227.55px" width="46.8" height="46.8" viewBox="0 0 47 47" preserveAspectRatio="none"><g clip-path="url(#cp)"><rect width="47" height="47" fill="#b9c6de"/>
<rect width="47" height="47" fill="url(#gx12)"/>
<path d="M29 0 L40 0 L47 16 V30 L40 24z" fill="#e6ecf6" filter="url(#f1)"/>
<path d="M40 0 H47 V14z" fill="#5f7aa8" filter="url(#f1)"/>
<path d="M38 26 L47 32 V40 H36z" fill="#7d94bc" filter="url(#f1)"/>
<path d="M0 0 H8 L3 14 L0 18z" fill="#5571a0" filter="url(#f1)"/>
<path d="M0 22 H17 V38 H0z" fill="#a3b3cf" filter="url(#f1)"/>
<path d="M17.400 0 H28 L27 15 H19z" fill="#1c2438" filter="url(#f0)"/>
<path d="M4.500 8 L12.700 4.500 L17.400 12.700 L12.700 21 L5.600 19.800z" fill="#c9d1e1" filter="url(#f0)"/>
<path d="M6 8.500 L11.500 6 L13.500 10 L7.500 13z" fill="#f1f4fa" filter="url(#f0)"/>
<path d="M5.600 15.500 L13 13.500 L12.700 21 L5.600 19.800z" fill="#8d9cb9" filter="url(#f0)"/>
<ellipse cx="8.200" cy="18.300" rx="2" ry="1.200" fill="#1a2133" transform="rotate(-25 8.200 18.300)"/>
<rect x="18.600" y="15" width="9.400" height="22.600" fill="url(#gx12c)"/>
<rect x="18.600" y="15" width="9.400" height="6" fill="#2a3450" opacity=".9"/>
<rect x="21.500" y="21" width="3.500" height="14" fill="#4a5878" opacity=".55" filter="url(#f0)"/>
<g fill="#5b6a8a"><rect x="20" y="32.200" width="6.500" height=".7"/><rect x="20" y="34" width="6.500" height=".7"/><rect x="20" y="35.800" width="6.500" height=".7"/></g>
<rect x="0" y="38" width="47" height="2" fill="#eef2f9"/>
<path d="M0 40 H47 V47 H0z" fill="#2a3e64"/>
<path d="M0 40 H18 L14 47 H0z" fill="#7f93b7" filter="url(#f0)"/>
<ellipse cx="27" cy="42.500" rx="9" ry="1.500" fill="#10172a"/>
<path d="M30 44 L44 41.500 L44 45z" fill="#c7d2e6" opacity=".7" filter="url(#f0)"/>
</g><rect x=".5" y=".5" width="46" height="46" rx="7.5" fill="none" stroke="#1f8fc0" stroke-width="1.300"/></svg>
<svg class="t" style="left:242.15px;top:278.08px" width="42.00" height="27.34" viewBox="0 -1000 2000 1240" preserveAspectRatio="none"><text class="cr" x="0" y="0" fill="#c6d6ea">科学</text></svg>
<svg class="t" style="left:242.15px;top:302.18px" width="42.00" height="27.34" viewBox="0 -1000 2000 1240" preserveAspectRatio="none"><text class="cr" x="0" y="0" fill="#c6d6ea">数据</text></svg>
<svg class="t" style="left:335.80px;top:228.15px" width="45.6" height="45.6" viewBox="0 0 47 47" preserveAspectRatio="none"><g clip-path="url(#cp)"><rect width="47" height="47" fill="#9b9fa3"/>
<rect width="47" height="47" fill="#9b9fa3"/>
<rect x="0" y="0" width="47" height="4" fill="#4f534b"/>
<rect x="20" y="0" width="8.500" height="4" fill="#d2bf38"/><rect x="38" y="5" width="4" height="5" fill="#3e8a6a"/>
<path d="M0 4 L30 8 L30 22 L0 20z" fill="#c6ccd2" filter="url(#f0)"/>
<rect x="30" y="6" width="17" height="34" fill="#8a7674"/>
<g fill="#c8c2c4"><rect x="32" y="8" width="1.200" height="30"/><rect x="36" y="8" width="1.200" height="30"/><rect x="40" y="8" width="1.200" height="30"/><rect x="44" y="8" width="1.200" height="30"/></g>
<rect x="30" y="16" width="17" height="2" fill="#8d3f3c"/><rect x="43" y="6" width="4" height="34" fill="#7a3a38" opacity=".7"/>
<rect x="18" y="14" width="13" height="26" fill="#8a9096" filter="url(#f0)"/>
<rect x="22" y="18" width="2" height="16" fill="#23262c"/><rect x="26" y="16" width="1.500" height="20" fill="#2b2e34"/><rect x="19" y="24" width="10" height="2" fill="#d7dadf"/>
<path d="M0 12 Q5 7 11 10 L15 18 L25 27 L24 31 L15 31 L17 47 L0 47z" fill="#e1e6bd"/>
<path d="M2 22 L8 20 L12 34 L6 44 L0 40z" fill="#eef0d4" filter="url(#f0)"/>
<ellipse cx="7.500" cy="13" rx="3.200" ry="3.800" fill="#6fb4cf"/>
<ellipse cx="7" cy="11" rx="4.500" ry="3.200" fill="#e3e6c4"/>
<path d="M12 42 H47 V46.500 H12z" fill="#2f9f55"/>
<path d="M12 46.500 H47 V47 H12z" fill="#d9dcd0"/>
<g fill="#30343a"><rect x="20" y="38" width="1.500" height="7"/><rect x="28" y="38" width="1.500" height="7"/><rect x="38" y="38" width="1.500" height="7"/></g>
</g></svg>
<svg class="t" style="left:337.20px;top:278.08px" width="42.00" height="27.34" viewBox="0 -1000 2000 1240" preserveAspectRatio="none"><text class="cr" x="0" y="0" fill="#c6d6ea">生产</text></svg>
<svg class="t" style="left:337.20px;top:302.18px" width="42.00" height="27.34" viewBox="0 -1000 2000 1240" preserveAspectRatio="none"><text class="cr" x="0" y="0" fill="#c6d6ea">执行</text></svg>
<svg class="t" style="left:403.80px;top:228.15px" width="45.6" height="45.6" viewBox="0 0 47 47" preserveAspectRatio="none"><g clip-path="url(#cp)"><rect width="47" height="47" fill="#0b2448"/>
<rect width="47" height="47" fill="url(#gx14)"/>
<path d="M0 0 H24 L30 9 L0 7z" fill="#030b1a"/>
<path d="M23 0 L47 0 L47 12 L40 13 L27 8z" fill="#1d9fd6" filter="url(#f0)"/>
<g stroke="#7fe4fa" stroke-width="1.300" opacity=".9"><path d="M25 5 Q33 2.500 36 0M29 8 Q38 5 42 0M33 10.500 Q42 8 47 3"/></g>
<rect x="22" y="14" width="25" height="24" fill="#39d3e0" opacity=".55" filter="url(#f1)"/>
<rect x="0.00" y="7.30" width="3.60" height="35.30" fill="url(#gx14b)"/><rect x="0.72" y="15.07" width="2.16" height="14.83" fill="#3f7fa2" opacity=".85"/><rect x="5.50" y="8.42" width="3.10" height="33.31" fill="url(#gx14b)"/><rect x="6.12" y="15.75" width="1.86" height="13.99" fill="#3f7fa2" opacity=".85"/><rect x="10.17" y="9.38" width="2.66" height="31.62" fill="url(#gx14b)"/><rect x="10.71" y="16.33" width="1.60" height="13.28" fill="#3f7fa2" opacity=".85"/><rect x="14.14" y="10.19" width="2.29" height="30.18" fill="url(#gx14b)"/><rect x="14.60" y="16.83" width="1.37" height="12.68" fill="#3f7fa2" opacity=".85"/><rect x="17.52" y="10.88" width="1.97" height="28.96" fill="url(#gx14b)"/><rect x="17.91" y="17.25" width="1.18" height="12.16" fill="#3f7fa2" opacity=".85"/><rect x="20.39" y="11.47" width="1.69" height="27.92" fill="url(#gx14b)"/><rect x="20.73" y="17.61" width="1.02" height="11.73" fill="#3f7fa2" opacity=".85"/><rect x="22.83" y="11.96" width="1.46" height="27.04" fill="url(#gx14b)"/><rect x="24.91" y="12.39" width="1.25" height="26.29" fill="url(#gx14b)"/><rect x="26.68" y="12.75" width="1.08" height="25.65" fill="url(#gx14b)"/><rect x="28.21" y="13.06" width="1.00" height="25.10" fill="url(#gx14b)"/><rect x="29.66" y="13.36" width="1.00" height="24.57" fill="url(#gx14b)"/><rect x="31.11" y="13.65" width="1.00" height="24.05" fill="url(#gx14b)"/><rect x="32.56" y="13.95" width="1.00" height="23.52" fill="url(#gx14b)"/><rect x="34.01" y="14.25" width="1.00" height="23.00" fill="url(#gx14b)"/><rect x="35.46" y="14.54" width="1.00" height="22.48" fill="url(#gx14b)"/><rect x="36.91" y="14.84" width="1.00" height="21.95" fill="url(#gx14b)"/><rect x="38.36" y="15.13" width="1.00" height="21.43" fill="url(#gx14b)"/><rect x="39.81" y="15.43" width="1.00" height="20.90" fill="url(#gx14b)"/><rect x="41.26" y="15.73" width="1.00" height="20.38" fill="url(#gx14b)"/><rect x="42.71" y="16.02" width="1.00" height="19.85" fill="url(#gx14b)"/><rect x="44.16" y="16.32" width="1.00" height="19.33" fill="url(#gx14b)"/><rect x="45.61" y="16.62" width="1.00" height="18.80" fill="url(#gx14b)"/>
<path d="M0 6.300 L47 16 L47 17.600 L0 8.300z" fill="#86f4e0" opacity=".9"/>
<path d="M0 42.600 L47 35.200 L47 47 L0 47z" fill="#051230"/>
<path d="M8 47 L47 37.500 L47 41 L28 47z" fill="#1a74b4" opacity=".65" filter="url(#f0)"/>
</g></svg>
<svg class="t" style="left:405.20px;top:278.08px" width="42.00" height="27.34" viewBox="0 -1000 2000 1240" preserveAspectRatio="none"><text class="cr" x="0" y="0" fill="#c6d6ea">物料</text></svg>
<svg class="t" style="left:405.20px;top:302.18px" width="42.00" height="27.34" viewBox="0 -1000 2000 1240" preserveAspectRatio="none"><text class="cr" x="0" y="0" fill="#c6d6ea">追溯</text></svg>
<svg class="t" style="left:472.40px;top:228.15px" width="45.6" height="45.6" viewBox="0 0 47 47" preserveAspectRatio="none"><g clip-path="url(#cp)"><rect width="47" height="47" fill="#5f86ae"/>
<rect width="47" height="47" fill="url(#gx15)"/>
<g fill="#d3e2f1" opacity=".6" filter="url(#f0)"><rect x="2" y="3" width="9" height="7"/><rect x="14" y="1" width="10" height="6"/><rect x="27" y="2" width="8" height="5"/><rect x="38" y="1" width="9" height="7"/><rect x="1" y="14" width="7" height="8"/><rect x="11" y="11" width="8" height="7"/></g>
<g fill="#173a64" opacity=".7" filter="url(#f0)"><rect x="8" y="8" width="8" height="5"/><rect x="20" y="8" width="9" height="6"/><rect x="3" y="24" width="9" height="7"/><rect x="12" y="20" width="6" height="6"/></g>
<circle cx="6" cy="40" r="4" fill="none" stroke="#c9dcee" stroke-width="1.200" opacity=".7"/>
<path d="M10 28 L17 24 L20 33 L14 38z" fill="#f2f5fa" filter="url(#f0)"/>
<path d="M12 26 L16 22 L18 27z" fill="#1d2a3c"/>
<path d="M19.500 14 L47 9.500 L47 45 L22 40z" fill="#0f1114"/>
<path d="M22 16.300 L47 12.300 L47 42 L24 37.500z" fill="#b76a4a"/>
<path d="M22 16.300 L47 12.300 L47 19 L22.500 22.500z" fill="#efe9e2"/>
<path d="M22.300 18.600 L47 14.800 L47 16 L22.400 19.800z" fill="#8f8a84"/>
<g stroke="#e8d8cc" stroke-width=".8" opacity=".85"><path d="M23 27.500 L47 24.500M23.500 33 L47 31"/></g>
<g stroke="#8f4a30" stroke-width=".6" opacity=".7"><path d="M28 22 L29 38M34 21 L35 39M40 20 L41 40.500"/></g>
<path d="M23.200 30 L26 29.600 L26.300 36.500 L23.600 36z" fill="#d8d24a"/>
<path d="M8 47 L12 39 L20 35.500 L24 38 L24 41 L28 42 L30 47z" fill="#d9a98c"/>
<path d="M12 39 L20 35.500 L22 37 L14 42z" fill="#f0cdb4"/>
</g></svg>
<svg class="t" style="left:473.80px;top:278.08px" width="42.00" height="27.34" viewBox="0 -1000 2000 1240" preserveAspectRatio="none"><text class="cr" x="0" y="0" fill="#c6d6ea">安全</text></svg>
<svg class="t" style="left:473.80px;top:302.18px" width="42.00" height="27.34" viewBox="0 -1000 2000 1240" preserveAspectRatio="none"><text class="cr" x="0" y="0" fill="#c6d6ea">管理</text></svg>
<svg class="t" style="left:540.75px;top:228.15px" width="45.6" height="45.6" viewBox="0 0 47 47" preserveAspectRatio="none"><g clip-path="url(#cp)"><rect width="47" height="47" fill="#1f0f19"/>
<rect width="47" height="47" fill="#1f0f19"/>
<g fill="#b9b3bd" opacity=".5"><rect x="4" y="3" width="4" height="1"/><rect x="12" y="3" width="5" height="1"/><rect x="21" y="3" width="4" height="1"/><rect x="30" y="3" width="4" height="1"/><rect x="36" y="3" width="4" height="1"/><rect x="41" y="4" width="3" height="1"/><rect x="2" y="8" width="3" height=".8"/><rect x="23" y="8" width="3" height=".8"/><rect x="2" y="25.500" width="4" height=".8"/><rect x="23" y="25.500" width="3" height=".8"/></g>
<circle cx="12.400" cy="16" r="3.900" fill="none" stroke="#3f6fd8" stroke-width="2"/>
<path d="M12.400 12.100 A3.900 3.900 0 0 1 16.300 16" fill="none" stroke="#4fc46a" stroke-width="2"/>
<path d="M16.300 16 A3.900 3.900 0 0 1 12.400 19.900" fill="none" stroke="#f0a43a" stroke-width="2"/>
<path d="M8.500 16 A3.900 3.900 0 0 1 9.800 13.100" fill="none" stroke="#9ad04a" stroke-width="2"/>
<g fill="#7f8ad0"><rect x="2" y="12" width="2" height=".9"/><rect x="2" y="14" width="2" height=".9" fill="#e0a040"/><rect x="2" y="16" width="2" height=".9"/><rect x="2" y="18" width="2" height=".9" fill="#60c080"/><rect x="2" y="20" width="2" height=".9"/></g>
<ellipse cx="25" cy="15.500" rx="2.300" ry="3.300" fill="none" stroke="#2f5f8a" stroke-width=".9"/>
<ellipse cx="32.500" cy="15.500" rx="2.300" ry="3.300" fill="none" stroke="#2f6f9a" stroke-width=".9"/>
<ellipse cx="40" cy="15.500" rx="2.300" ry="3.300" fill="none" stroke="#2f8f8a" stroke-width=".9"/>
<rect x="23" y="10" width="2.500" height="1.300" fill="#e8e8ee"/>
<g fill="#a8a2ae" opacity=".7"><rect x="24" y="21" width="2" height=".8"/><rect x="31.500" y="21" width="2" height=".8"/><rect x="39" y="21" width="2" height=".8"/></g>
<path d="M2 39.500 L6 38 L9 39 L12 36 L15.500 29 L18 36 L21 39.500z" fill="#2c4a5e" opacity=".9"/>
<path d="M3 39.500 L7 36.500 L10 39.500z" fill="#35566a" opacity=".8"/>
<rect x="2" y="39.500" width="19" height=".5" fill="#6a6470"/>
<rect x="2" y="28" width=".5" height="12" fill="#4a4450"/>
<rect x="23.500" y="27" width=".5" height="13" fill="#5a5460"/>
<rect x="23.500" y="39.500" width="19" height=".7" fill="#4f8a8a"/>
<rect x="26" y="28.500" width="2.500" height="1.400" fill="#f0f0f4"/>
<rect x="41" y="29" width="3" height=".8" fill="#e0a040"/><rect x="41" y="31" width="3" height=".8" fill="#4a7ad0"/>
<rect x="18" y="43.500" width="9" height=".8" fill="#4a4450"/>
</g></svg>
<svg class="t" style="left:542.15px;top:278.08px" width="42.00" height="27.34" viewBox="0 -1000 2000 1240" preserveAspectRatio="none"><text class="cr" x="0" y="0" fill="#c6d6ea">能源</text></svg>
<svg class="t" style="left:542.15px;top:302.18px" width="42.00" height="27.34" viewBox="0 -1000 2000 1240" preserveAspectRatio="none"><text class="cr" x="0" y="0" fill="#c6d6ea">监视</text></svg>
<svg class="t" style="left:608.95px;top:228.15px" width="45.6" height="45.6" viewBox="0 0 47 47" preserveAspectRatio="none"><g clip-path="url(#cp)"><rect width="47" height="47" fill="#00aaff"/>
<rect width="47" height="47" fill="#00aaff"/>
<path d="M5 .4 H40 Q46.600 .4 46.600 7 V40" fill="none" stroke="#c9d3da" stroke-width=".8"/>
<path d="M31 13 Q31 7 34 7 Q37 7 37 14" fill="none" stroke="#f4d84a" stroke-width=".9"/>
<rect x="15" y="8" width="2.600" height="3.500" rx="1" fill="#f2f6fa"/>
<rect x="12" y="12.500" width="23" height="3" fill="#3c4a56"/>
<rect x="12" y="15.500" width="23" height="18" fill="#dfe8ee"/>
<rect x="12" y="33.500" width="23" height="2.500" fill="#55636f"/>
<rect x="23.500" y="16" width="5" height="4.500" fill="#e85a8a"/>
<circle cx="26" cy="17.800" r="1.100" fill="#5a3a4a"/>
<rect x="29" y="17" width="6" height="10" fill="#9fd9c2"/>
<rect x="9" y="18" width="16" height="14.500" fill="#fbfcfd"/>
<g><rect x="10.500" y="24" width="1.500" height="7" fill="#e85a8a"/><rect x="12.600" y="21.500" width="1.500" height="9.500" fill="#3ab0e8"/><rect x="14.700" y="25" width="1.500" height="6" fill="#f2c23a"/><rect x="16.800" y="22.500" width="1.500" height="8.500" fill="#f2c23a"/></g>
<g fill="#e8a0b0"><rect x="20" y="21" width="4" height=".9"/><rect x="20" y="23" width="4" height=".9" fill="#9fd0f0"/><rect x="20" y="25" width="4" height=".9"/><rect x="20" y="27" width="4" height=".9" fill="#f0d890"/></g>
<rect x="27.500" y="25.500" width="11.500" height="10" fill="#f6f9fb"/>
<path d="M28.500 32 L31 29.500 L33 31.500 L35.500 28 L38 30" fill="none" stroke="#3ab0e8" stroke-width=".7"/>
<path d="M28.500 33.500 L31 32 L33 33 L35.500 30.500 L38 32" fill="none" stroke="#f0a0a0" stroke-width=".6"/>
<rect x="36.500" y="27" width="2" height="4" fill="#f4e8b0"/>
<path d="M21.500 36 H26.500 L27.500 40.500 H20.500z" fill="#a9b3ba"/>
<rect x="18.500" y="40.500" width="11" height="1.300" fill="#c9d1d7"/>
<path d="M31.500 36 L33.500 36 L32.500 40z" fill="#f2f6fa"/>
</g></svg>
<svg class="t" style="left:610.35px;top:278.08px" width="42.00" height="27.34" viewBox="0 -1000 2000 1240" preserveAspectRatio="none"><text class="cr" x="0" y="0" fill="#c6d6ea">人员</text></svg>
<svg class="t" style="left:610.35px;top:302.18px" width="42.00" height="27.34" viewBox="0 -1000 2000 1240" preserveAspectRatio="none"><text class="cr" x="0" y="0" fill="#c6d6ea">管理</text></svg>
<svg class="t" style="left:697.95px;top:227.55px" width="46.8" height="46.8" viewBox="0 0 47 47" preserveAspectRatio="none"><g clip-path="url(#cp)"><rect width="47" height="47" fill="#dcd7dc"/>
<rect width="47" height="47" fill="#dcd7dc"/>
<path d="M0 0 H47 V16 L30 0z" fill="#e7e4ea"/>
<path d="M0 24.500 L3.300 22.700 L12.700 36.200 L16.200 47 H0z" fill="#7ccfb0"/>
<path d="M0 2 L8 0 L46 44 L46 47 L34 47 L0 9z" fill="#c9c5ce"/>
<path d="M0 4 L3 3 L41 47 L36 47 L0 8.500z" fill="#e9cb3c"/>
<path d="M3 3 L5 2.500 L43 47 L41 47z" fill="#b9b4be"/>
<g stroke="#8d8892" stroke-width=".7" opacity=".8"><path d="M13 24 L11 27 M18 30 L16 33 M23 36 L21 39 M28 42 L26 45"/></g>
<g fill="#f2e6bc"><path d="M12 15.500 L15 14.500 L16.300 16.600 L13.300 17.600z"/><path d="M16.500 21.500 L19.500 20.500 L20.800 22.600 L17.800 23.600z"/><path d="M22 27.800 L24.500 27 L25.500 28.800 L23 29.600z"/><path d="M35 43 L37.500 42.200 L38.500 44.200 L36 45z" fill="#e6c544"/></g>
<path d="M2.700 12 L9 8 L16.200 11 L16.200 21 L10 25 L2.700 21z" fill="#cfcdd6"/>
<path d="M2.700 12 L9 8 L16.200 11 L10 15z" fill="#f3f2f6"/>
<path d="M10 15 L16.200 11 V21 L10 25z" fill="#a9a7b4"/>
<path d="M10.800 16.500 L15.300 13.700 V19 L10.800 21.800z" fill="#3b3a44"/>
<path d="M11.500 19 L14.500 17.200 V19.300 L11.500 21z" fill="#e8b54a"/>
<path d="M18 3 L24 0 H29 V8 L23 11 L18 9z" fill="#c6d0e2"/>
<path d="M23 5 L29 2 V8 L23 11z" fill="#9fadc8"/>
<path d="M24 7 L32 3 L38.500 6 L38.500 20 L30 24.500 L24 21z" fill="#ecebf1"/>
<path d="M27.500 7.500 L33 5 L37 7 L37 11.500 L31.500 14 L27.500 12z" fill="#272a33"/>
<path d="M25.500 15 L30 13 L35 15.500 L35 19 L30 21.500 L25.500 19z" fill="#e8a722"/>
<path d="M26.500 15.300 L30 13.800 L33.500 15.500 L30 17.200z" fill="#f6cf5a"/>
<path d="M26 19.500 L30 21.800 L34.500 19.500 L34.500 23 L30 25.500 L26 23z" fill="#c9c8d2"/>
<path d="M27.500 21.500 L30 23 L32.500 21.700 L32.500 23 L30 24.300 L27.500 23z" fill="#3b3a44"/>
<path d="M37.400 15 L44 11.500 L47 13 V31 L43 33 L37.400 30z" fill="#a9c0e1"/>
<path d="M37.400 15 L44 11.500 L47 13 L41 16.500z" fill="#eef1f7"/>
<path d="M41 16.500 L47 13 V31 L41 34z" fill="#8aa6d0"/>
<path d="M42 20 L46 18 V26 L42 28z" fill="#5f7fb0"/>
<path d="M33 4 L40 1 L47 4 V11 L40 14.500 L33 11z" fill="#d9e1ee"/>
<path d="M2 33.500 L5.500 31.700 L9 33.500 V38.500 L5.500 40.500 L2 38.500z" fill="#efeef3"/>
<path d="M2.300 33.200 L5.500 31.500 L8.700 33.200 L5.500 35z" fill="#dfb42c"/>
<path d="M2.800 36.300 L5.500 37.800 L8.200 36.300 V37.800 L5.500 39.300 L2.800 37.800z" fill="#3b3a44"/>
</g><rect x=".5" y=".5" width="46" height="46" rx="7.5" fill="none" stroke="#3b82c4" stroke-width="1.300"/></svg>
<svg class="t" style="left:700.65px;top:278.08px" width="42.00" height="27.34" viewBox="0 -1000 2000 1240" preserveAspectRatio="none"><text class="cr" x="0" y="0" fill="#c6d6ea">高速</text></svg>
<svg class="t" style="left:700.65px;top:302.18px" width="42.00" height="27.34" viewBox="0 -1000 2000 1240" preserveAspectRatio="none"><text class="cr" x="0" y="0" fill="#c6d6ea">分拣</text></svg>
<svg class="t" style="left:771.40px;top:227.55px" width="46.8" height="46.8" viewBox="0 0 47 47" preserveAspectRatio="none"><g clip-path="url(#cp)"><rect width="47" height="47" fill="#5f86ae"/>
<rect width="47" height="47" fill="url(#gx15)"/>
<g fill="#d3e2f1" opacity=".6" filter="url(#f0)"><rect x="2" y="3" width="9" height="7"/><rect x="14" y="1" width="10" height="6"/><rect x="27" y="2" width="8" height="5"/><rect x="38" y="1" width="9" height="7"/><rect x="1" y="14" width="7" height="8"/><rect x="11" y="11" width="8" height="7"/></g>
<g fill="#173a64" opacity=".7" filter="url(#f0)"><rect x="8" y="8" width="8" height="5"/><rect x="20" y="8" width="9" height="6"/><rect x="3" y="24" width="9" height="7"/><rect x="12" y="20" width="6" height="6"/></g>
<circle cx="6" cy="40" r="4" fill="none" stroke="#c9dcee" stroke-width="1.200" opacity=".7"/>
<path d="M10 28 L17 24 L20 33 L14 38z" fill="#f2f5fa" filter="url(#f0)"/>
<path d="M12 26 L16 22 L18 27z" fill="#1d2a3c"/>
<path d="M19.500 14 L47 9.500 L47 45 L22 40z" fill="#0f1114"/>
<path d="M22 16.300 L47 12.300 L47 42 L24 37.500z" fill="#b76a4a"/>
<path d="M22 16.300 L47 12.300 L47 19 L22.500 22.500z" fill="#efe9e2"/>
<path d="M22.300 18.600 L47 14.800 L47 16 L22.400 19.800z" fill="#8f8a84"/>
<g stroke="#e8d8cc" stroke-width=".8" opacity=".85"><path d="M23 27.500 L47 24.500M23.500 33 L47 31"/></g>
<g stroke="#8f4a30" stroke-width=".6" opacity=".7"><path d="M28 22 L29 38M34 21 L35 39M40 20 L41 40.500"/></g>
<path d="M23.200 30 L26 29.600 L26.300 36.500 L23.600 36z" fill="#d8d24a"/>
<path d="M8 47 L12 39 L20 35.500 L24 38 L24 41 L28 42 L30 47z" fill="#d9a98c"/>
<path d="M12 39 L20 35.500 L22 37 L14 42z" fill="#f0cdb4"/>
</g><rect x=".5" y=".5" width="46" height="46" rx="7.5" fill="none" stroke="#3b82c4" stroke-width="1.300"/></svg>
<svg class="t" style="left:774.10px;top:278.08px" width="42.00" height="27.34" viewBox="0 -1000 2000 1240" preserveAspectRatio="none"><text class="cr" x="0" y="0" fill="#c6d6ea">仓储</text></svg>
<svg class="t" style="left:774.10px;top:302.18px" width="42.00" height="27.34" viewBox="0 -1000 2000 1240" preserveAspectRatio="none"><text class="cr" x="0" y="0" fill="#c6d6ea">管理</text></svg>
<svg class="t" style="left:861.60px;top:227.55px" width="46.8" height="46.8" viewBox="0 0 47 47" preserveAspectRatio="none"><g clip-path="url(#cp)"><rect width="47" height="47" fill="#fff"/>
<rect width="47" height="47" fill="#fff"/>
<path d="M12 2.300 H36.500 L45 10.500 V42.500 Q45 44 43.500 44 H12z" fill="#e2e2e2" stroke="#a9a9a9" stroke-width=".8"/>
<path d="M36.500 2.300 V9 Q36.500 10.500 38 10.500 H45z" fill="#f8f8f8" stroke="#a9a9a9" stroke-width=".7"/>
<g fill="#c9c9c9"><rect x="35" y="17" width="2.500" height="1"/><rect x="35" y="22" width="2.500" height="1"/><rect x="35" y="27" width="2.500" height="1"/><rect x="35" y="32" width="2.500" height="1"/></g>
<rect x=".8" y="10.600" width="33.600" height="21.800" fill="#8d4a8b" stroke="#c9a6c8" stroke-width=".7"/>
<text x="17.600" y="28.200" font-family="Liberation Sans, sans-serif" font-size="18.300" text-anchor="middle" fill="#fff" transform="translate(17.600 0) scale(.8 1) translate(-17.600 0)" stroke="#fff" stroke-width=".45">CSV</text>
</g><rect x=".5" y=".5" width="46" height="46" rx="7.5" fill="none" stroke="#1f8fc0" stroke-width="1.300"/></svg>
<svg class="t" style="left:864.30px;top:278.08px" width="42.00" height="27.34" viewBox="0 -1000 2000 1240" preserveAspectRatio="none"><text class="cr" x="0" y="0" fill="#c6d6ea">系统</text></svg>
<svg class="t" style="left:864.30px;top:302.18px" width="42.00" height="27.34" viewBox="0 -1000 2000 1240" preserveAspectRatio="none"><text class="cr" x="0" y="0" fill="#c6d6ea">验证</text></svg>
<svg class="t" style="left:929.65px;top:227.55px" width="46.8" height="46.8" viewBox="0 0 47 47" preserveAspectRatio="none"><g clip-path="url(#cp)"><rect width="47" height="47" fill="#fff"/>
<rect width="47" height="47" fill="#fff"/>
<path d="M22.300 1 L23.500 .2 L24.700 1 L24.300 6 L25.300 8 L24.600 36 L26.500 40 L30 44 L30 47 L17 47 L17 44 L20.500 40 L22.400 36 L21.700 8 L22.700 6z" fill="url(#gx21)"/>
<ellipse cx="23.500" cy="7.500" rx="2.200" ry="1.800" fill="#e3aa3a"/>
<ellipse cx="23.500" cy="22" rx="1.600" ry="2.200" fill="#c98a22"/>
<ellipse cx="23.500" cy="30" rx="1.600" ry="2.200" fill="#c98a22"/>
<path d="M6 8.500 Q12 7 17 10.500 Q21 12.500 23.500 10.500 Q26 12.500 30 10.500 Q35 7 41 8.500 L41 10 Q35 9 30.500 12.500 Q26 14.500 23.500 12.500 Q21 14.500 16.500 12.500 Q12 9 6 10z" fill="#d9a032"/>
<g stroke="#d2a64a" stroke-width=".55" fill="none"><path d="M7 9.500 L2.500 35.500M7 9.500 L11.500 35.500M7 9.500 L7 35M40 9.500 L35.500 35.500M40 9.500 L44.500 35.500M40 9.500 L40 35"/></g>
<path d="M1.500 35.500 H12.500 Q11 39.500 7 39.500 Q3 39.500 1.500 35.500z" fill="#d79a2a"/>
<ellipse cx="7" cy="35.500" rx="5.500" ry="1" fill="#f0c660"/>
<path d="M34.500 35.500 H45.500 Q44 39.500 40 39.500 Q36 39.500 34.500 35.500z" fill="#d79a2a"/>
<ellipse cx="40" cy="35.500" rx="5.500" ry="1" fill="#f0c660"/>
</g><rect x=".5" y=".5" width="46" height="46" rx="7.5" fill="none" stroke="#1f8fc0" stroke-width="1.300"/></svg>
<svg class="t" style="left:932.35px;top:278.08px" width="42.00" height="27.34" viewBox="0 -1000 2000 1240" preserveAspectRatio="none"><text class="cr" x="0" y="0" fill="#c6d6ea">质量</text></svg>
<svg class="t" style="left:932.35px;top:302.18px" width="42.00" height="27.34" viewBox="0 -1000 2000 1240" preserveAspectRatio="none"><text class="cr" x="0" y="0" fill="#c6d6ea">体系</text></svg>
<svg class="t" style="left:997.95px;top:227.55px" width="46.8" height="46.8" viewBox="0 0 47 47" preserveAspectRatio="none"><g clip-path="url(#cp)"><rect width="47" height="47" fill="#157fae"/>
<rect width="47" height="47" fill="url(#gx22)"/>
<path d="M0 6 L14 6" stroke="#34c3e8" stroke-width=".5" opacity=".7"/><path d="M14 6 L18 2" stroke="#34c3e8" stroke-width=".5" opacity=".7"/><path d="M0 10 L10 10" stroke="#34c3e8" stroke-width=".5" opacity=".7"/><path d="M10 10 L15 15" stroke="#34c3e8" stroke-width=".5" opacity=".7"/><path d="M0 15 L7 15" stroke="#34c3e8" stroke-width=".5" opacity=".7"/><path d="M2 20 L9 20" stroke="#34c3e8" stroke-width=".5" opacity=".7"/><path d="M0 25 L6 25" stroke="#34c3e8" stroke-width=".5" opacity=".7"/><path d="M0 31 L8 31" stroke="#34c3e8" stroke-width=".5" opacity=".7"/><path d="M8 31 L12 35" stroke="#34c3e8" stroke-width=".5" opacity=".7"/><path d="M0 36 L10 40" stroke="#34c3e8" stroke-width=".5" opacity=".7"/><path d="M3 42 L14 42" stroke="#34c3e8" stroke-width=".5" opacity=".7"/><path d="M14 42 L18 46" stroke="#34c3e8" stroke-width=".5" opacity=".7"/><path d="M30 2 L36 8" stroke="#34c3e8" stroke-width=".5" opacity=".7"/><path d="M36 8 L47 8" stroke="#34c3e8" stroke-width=".5" opacity=".7"/><path d="M34 0 L40 5" stroke="#34c3e8" stroke-width=".5" opacity=".7"/><path d="M40 12 L47 12" stroke="#34c3e8" stroke-width=".5" opacity=".7"/><path d="M41 17 L47 17" stroke="#34c3e8" stroke-width=".5" opacity=".7"/><path d="M42 22 L47 22" stroke="#34c3e8" stroke-width=".5" opacity=".7"/><path d="M40 28 L47 28" stroke="#34c3e8" stroke-width=".5" opacity=".7"/><path d="M38 34 L47 34" stroke="#34c3e8" stroke-width=".5" opacity=".7"/><path d="M34 40 L47 40" stroke="#34c3e8" stroke-width=".5" opacity=".7"/><path d="M30 44 L44 44" stroke="#34c3e8" stroke-width=".5" opacity=".7"/><path d="M20 0 L24 4" stroke="#34c3e8" stroke-width=".5" opacity=".7"/><path d="M24 4 L32 4" stroke="#34c3e8" stroke-width=".5" opacity=".7"/><circle cx="14" cy="6" r=".9" fill="#7fe6ff"/><circle cx="10" cy="10" r=".9" fill="#7fe6ff"/><circle cx="7" cy="15" r=".9" fill="#7fe6ff"/><circle cx="9" cy="20" r=".9" fill="#7fe6ff"/><circle cx="8" cy="31" r=".9" fill="#7fe6ff"/><circle cx="36" cy="8" r=".9" fill="#7fe6ff"/><circle cx="40" cy="12" r=".9" fill="#7fe6ff"/><circle cx="41" cy="17" r=".9" fill="#7fe6ff"/><circle cx="42" cy="22" r=".9" fill="#7fe6ff"/><circle cx="40" cy="28" r=".9" fill="#7fe6ff"/><circle cx="38" cy="34" r=".9" fill="#7fe6ff"/><circle cx="34" cy="40" r=".9" fill="#7fe6ff"/><circle cx="24" cy="4" r=".9" fill="#7fe6ff"/><circle cx="14" cy="42" r=".9" fill="#7fe6ff"/>
<g transform="translate(24 25) rotate(-20) scale(.86) translate(-24.500 -25)">
<path d="M14 24 V15 Q14 4.500 24.500 4.500 Q35 4.500 35 15 V24" fill="none" stroke="#dfe6ec" stroke-width="4.800"/>
<path d="M16.300 24 V15 Q16.300 7 24.500 7" fill="none" stroke="#7f8c9a" stroke-width="1.200"/>
<rect x="8.500" y="21" width="32" height="23" rx="4" fill="url(#gx22b)" stroke="#c9dbe8" stroke-width="1.300"/>
<path d="M9 37 H40 V40 Q40 43.500 36.500 43.500 H12.500 Q9 43.500 9 40z" fill="#0a4f86" opacity=".55"/>
<circle cx="24.500" cy="29.500" r="3.400" fill="#060a10"/>
<path d="M22.800 30 H26.200 L27.200 38.500 H21.800z" fill="#060a10"/>
</g>
</g></svg>
<svg class="t" style="left:1000.65px;top:278.08px" width="42.00" height="27.34" viewBox="0 -1000 2000 1240" preserveAspectRatio="none"><text class="cr" x="0" y="0" fill="#c6d6ea">数据</text></svg>
<svg class="t" style="left:1000.65px;top:302.18px" width="42.00" height="27.34" viewBox="0 -1000 2000 1240" preserveAspectRatio="none"><text class="cr" x="0" y="0" fill="#c6d6ea">审计</text></svg>
<svg class="t" style="left:185.20px;top:334.70px" width="83.20" height="25.79" viewBox="0 -1000 4000 1240" preserveAspectRatio="none"><text class="cb" x="0" y="0" fill="#ffffff">智能研发</text></svg>
<svg class="t" style="left:453.80px;top:334.70px" width="83.20" height="25.79" viewBox="0 -1000 4000 1240" preserveAspectRatio="none"><text class="cb" x="0" y="0" fill="#ffffff">生产执行</text></svg>
<svg class="t" style="left:716.40px;top:334.70px" width="83.20" height="25.79" viewBox="0 -1000 4000 1240" preserveAspectRatio="none"><text class="cb" x="0" y="0" fill="#ffffff">仓储物流</text></svg>
<svg class="t" style="left:916.40px;top:334.70px" width="83.20" height="25.79" viewBox="0 -1000 4000 1240" preserveAspectRatio="none"><text class="cb" x="0" y="0" fill="#ffffff">合规验证</text></svg>
<div class="bx" style="left:177px;top:385px;width:180px;height:43px"></div>
<svg class="t" style="left:227.80px;top:396.03px" width="82.40" height="25.54" viewBox="0 -1000 4000 1240" preserveAspectRatio="none"><text class="cb" x="0" y="0" fill="#ffffff">数据工场</text></svg>
<div class="bx" style="left:399px;top:385px;width:180px;height:43px"></div>
<svg class="t" style="left:449.80px;top:396.03px" width="82.40" height="25.54" viewBox="0 -1000 4000 1240" preserveAspectRatio="none"><text class="cb" x="0" y="0" fill="#ffffff">机理模型</text></svg>
<div class="bx" style="left:622px;top:385px;width:180px;height:43px"></div>
<svg class="t" style="left:672.80px;top:396.03px" width="82.40" height="25.54" viewBox="0 -1000 4000 1240" preserveAspectRatio="none"><text class="cb" x="0" y="0" fill="#ffffff">人工智能</text></svg>
<div class="bx" style="left:844px;top:385px;width:180px;height:43px"></div>
<svg class="t" style="left:894.80px;top:396.03px" width="82.40" height="25.54" viewBox="0 -1000 4000 1240" preserveAspectRatio="none"><text class="cb" x="0" y="0" fill="#ffffff">开发工场</text></svg>
<div class="bx" style="left:177px;top:456px;width:214px;height:36px"></div>
<svg class="t" style="left:255.10px;top:463.53px" width="61.80" height="25.54" viewBox="0 -1000 3000 1240" preserveAspectRatio="none"><text class="cb" x="0" y="0" fill="#ffffff">公有云</text></svg>
<div class="bx" style="left:494px;top:456px;width:214px;height:36px"></div>
<svg class="t" style="left:572.10px;top:463.53px" width="61.80" height="25.54" viewBox="0 -1000 3000 1240" preserveAspectRatio="none"><text class="cb" x="0" y="0" fill="#ffffff">边缘云</text></svg>
<div class="bx" style="left:811px;top:456px;width:213px;height:36px"></div>
<svg class="t" style="left:823.37px;top:463.53px" width="192.26" height="25.54" viewBox="0 -1000 9333.01 1240" preserveAspectRatio="none"><text class="cb" x="0" y="0" fill="#ffffff">云洲·链网边缘一体机</text></svg>
<div class="bx" style="left:177px;top:519.6px;width:180px;height:43.19999999999993px"></div>
<svg class="t" style="left:227.80px;top:530.73px" width="82.40" height="25.54" viewBox="0 -1000 4000 1240" preserveAspectRatio="none"><text class="cb" x="0" y="0" fill="#ffffff">标识解析</text></svg>
<div class="bx" style="left:399px;top:519.6px;width:180px;height:43.19999999999993px"></div>
<svg class="t" style="left:449.80px;top:530.73px" width="82.40" height="25.54" viewBox="0 -1000 4000 1240" preserveAspectRatio="none"><text class="cb" x="0" y="0" fill="#ffffff">商用密码</text></svg>
<div class="bx" style="left:622px;top:519.6px;width:180px;height:43.19999999999993px"></div>
<svg class="t" style="left:683.10px;top:530.73px" width="61.80" height="25.54" viewBox="0 -1000 3000 1240" preserveAspectRatio="none"><text class="cb" x="0" y="0" fill="#ffffff">区块链</text></svg>
<div class="bx" style="left:844px;top:519.6px;width:180px;height:43.19999999999993px"></div>
<svg class="t" style="left:884.50px;top:530.73px" width="103.00" height="25.54" viewBox="0 -1000 5000 1240" preserveAspectRatio="none"><text class="cb" x="0" y="0" fill="#ffffff">确定性网络</text></svg>
<svg class="t" style="left:227.90px;top:633.23px" width="41.20" height="25.54" viewBox="0 -1000 2000 1240" preserveAspectRatio="none"><text class="cb" x="0" y="0" fill="#ffffff">门禁</text></svg>
<div class="lat" style="left:231.40px;top:635.62px;font-size:20.3px;">DCS/SCADA</div>
<svg class="t" style="left:494.30px;top:633.23px" width="82.40" height="25.54" viewBox="0 -1000 4000 1240" preserveAspectRatio="none"><text class="cb" x="0" y="0" fill="#ffffff">能源监视</text></svg>
<svg class="t" style="left:627.30px;top:633.23px" width="82.40" height="25.54" viewBox="0 -1000 4000 1240" preserveAspectRatio="none"><text class="cb" x="0" y="0" fill="#ffffff">环境监测</text></svg>
<svg class="t" style="left:760.80px;top:633.23px" width="82.40" height="25.54" viewBox="0 -1000 4000 1240" preserveAspectRatio="none"><text class="cb" x="0" y="0" fill="#ffffff">生产设备</text></svg>
<svg class="t" style="left:894.30px;top:633.23px" width="82.40" height="25.54" viewBox="0 -1000 4000 1240" preserveAspectRatio="none"><text class="cb" x="0" y="0" fill="#ffffff">物流设备</text></svg>
<svg class="t" style="left:418.10px;top:668.23px" width="329.60" height="25.54" viewBox="0 -1000 16000 1240" preserveAspectRatio="none"><text class="cb" x="0" y="0" fill="#ffffff">仪器仪表、阀门、传感器、摄像头、</text></svg>
<div class="lat" style="left:617.00px;top:671.27px;font-size:20px;">PLC</div>
<svg class="ov" width="1065" height="709" viewBox="0 0 1065 709"><g fill="none" stroke="#66ccff" stroke-width="3.6" stroke-linejoin="miter"><path d="M44.700 69.500 V21.900 H79.200" stroke-width="4"/><path d="M77.800 21.900 V69.500" stroke-width="2.800"/><path d="M79 28 L97.800 33.200 V69.500" stroke-width="3.200"/><path d="M40 69.800 H103.200" stroke-width="3.400"/></g><rect x="51.2" y="29.20" width="9" height="3.4" rx="1.70" fill="#66ccff"/><rect x="63.2" y="29.20" width="9" height="3.4" rx="1.70" fill="#66ccff"/><rect x="51.2" y="36.80" width="9" height="3.4" rx="1.70" fill="#66ccff"/><rect x="63.2" y="36.80" width="9" height="3.4" rx="1.70" fill="#66ccff"/><rect x="51.2" y="44.30" width="9" height="3.4" rx="1.70" fill="#66ccff"/><rect x="63.2" y="44.30" width="9" height="3.4" rx="1.70" fill="#66ccff"/><rect x="51.2" y="52.20" width="9" height="2.4" rx="1.20" fill="#66ccff"/><rect x="63.2" y="52.20" width="9" height="2.4" rx="1.20" fill="#66ccff"/><rect x="51.2" y="59.30" width="9" height="3.4" rx="1.70" fill="#66ccff"/><rect x="63.2" y="59.30" width="9" height="3.4" rx="1.70" fill="#66ccff"/><g fill="none" stroke="#8fe6fb" stroke-linecap="round" stroke-linejoin="round"><rect x="43.400" y="200" width="52.700" height="45.600" rx="8" stroke-width="4.400"/><path d="M43.800 253.300 H93" stroke-width="3.800"/><g stroke-width="1.150"><circle cx="52.200" cy="211.400" r="2.500"/><circle cx="53.900" cy="221" r="4.300"/><circle cx="53.900" cy="221" r="1.500"/><circle cx="63.400" cy="231.600" r="6.300"/><circle cx="63.400" cy="231.600" r="2.400"/><circle cx="62.300" cy="211.400" r="2.100"/><circle cx="69.400" cy="211.400" r="3.200"/><rect x="73.500" y="206.800" width="14.300" height="9.200" rx="3.200"/><path d="M54.700 210.300 H60.200 M54.700 212.500 H60.200 M64.400 211.400 H66.200 M72.600 211.400 H73.500"/><path d="M49.800 212.800 L49.700 221.500 M54.700 213.300 L57.900 219 M50.200 223.600 L57.400 233.200 M57.300 223.600 L67.200 226.600 M57.800 236.800 V234.500 M69 236.800 V234.800"/></g><path d="M50.800 237.800 H72.600" stroke-width="2"/></g><circle cx="88.100" cy="237.200" r="15.200" fill="#1b3d60"/><path d="M95 244.800 L104.500 255" stroke="#1b3d60" stroke-width="9" stroke-linecap="round"/><circle cx="88.100" cy="237.200" r="10.700" fill="none" stroke="#8fe6fb" stroke-width="4.300"/><path d="M96 245.400 L103 253.500" stroke="#8fe6fb" stroke-width="4.300" stroke-linecap="round"/><path d="M73.3 607.9 L48.9 619.9M73.3 607.9 L97.6 619.9M48.9 619.9 L48.9 644.3M97.6 619.9 L97.6 644.3M48.9 644.3 L73.3 656M97.6 644.3 L73.3 656M73.3 607.9 L73.3 656M73.3 607.9 L48.9 644.3M73.3 607.9 L97.6 644.3M48.9 619.9 L73.3 632M97.6 619.9 L73.3 632M73.3 632 L48.9 644.3M73.3 632 L97.6 644.3M48.9 644.3 L97.6 644.3" fill="none" stroke="#66ccff" stroke-width="1.700"/><circle cx="73.3" cy="607.9" r="3.700" fill="#1b3d60" stroke="#66ccff" stroke-width="1.800"/><circle cx="48.9" cy="619.9" r="3.700" fill="#1b3d60" stroke="#66ccff" stroke-width="1.800"/><circle cx="97.6" cy="619.9" r="3.700" fill="#1b3d60" stroke="#66ccff" stroke-width="1.800"/><circle cx="73.3" cy="632" r="3.700" fill="#1b3d60" stroke="#66ccff" stroke-width="1.800"/><circle cx="48.9" cy="644.3" r="3.700" fill="#1b3d60" stroke="#66ccff" stroke-width="1.800"/><circle cx="97.6" cy="644.3" r="3.700" fill="#1b3d60" stroke="#66ccff" stroke-width="1.800"/><circle cx="73.3" cy="656" r="3.700" fill="#1b3d60" stroke="#66ccff" stroke-width="1.800"/><rect x="88.300" y="604.300" width="9.200" height="8" rx=".8" fill="#66ccff"/><rect x="90.700" y="606.800" width="4.400" height="3.200" fill="#1b3d60"/><path d="M92.900 604.300 V600" stroke="#66ccff" stroke-width="1.200"/><circle cx="92.900" cy="599.800" r="1" fill="#66ccff"/><path d="M89.800 598.400 Q92.900 596 96 598.400 M87.800 596.800 Q92.900 592.600 98 596.800" fill="none" stroke="#66ccff" stroke-width=".9"/><rect x="228.4" y="589.300" width="11.799999999999983" height="37" fill="none" stroke="#5cc6f8" stroke-width="1.200"/><path d="M228.4 597 H240.2 M228.4 622.800 H240.2" stroke="#5cc6f8" stroke-width="1.100"/><path d="M231.70000000000002 595 V592 H236.9 V595 M234.3 592 V595" fill="none" stroke="#5cc6f8" stroke-width=".9"/><circle cx="234.3" cy="603.700" r="1.800" fill="none" stroke="#5cc6f8" stroke-width="1"/><ellipse cx="234.3" cy="610" rx="2" ry="2.500" fill="#5cc6f8"/><rect x="256.9" y="589.300" width="12.5" height="37" fill="none" stroke="#5cc6f8" stroke-width="1.200"/><path d="M256.9 597 H269.4 M256.9 622.800 H269.4" stroke="#5cc6f8" stroke-width="1.100"/><path d="M260.54999999999995 595 V592 H265.75 V595 M263.15 592 V595" fill="none" stroke="#5cc6f8" stroke-width=".9"/><circle cx="263.15" cy="603.700" r="1.800" fill="none" stroke="#5cc6f8" stroke-width="1"/><ellipse cx="263.15" cy="610" rx="2" ry="2.500" fill="#5cc6f8"/><path d="M240.800 601.600 L248.600 603.300 L240.800 613.800z" fill="#a6e0fc"/><path d="M256.400 597.300 L248.800 603.300 L256.400 616z" fill="#5cc6f8"/><rect x="362.500" y="590.100" width="39.300" height="26.300" rx="1.500" fill="none" stroke="#5cc6f8" stroke-width="3"/><rect x="379.500" y="617.500" width="5.800" height="6" fill="#5cc6f8"/><rect x="372.700" y="622.800" width="18.700" height="3.800" fill="#5cc6f8"/><circle cx="381.900" cy="597" r="3.300" fill="#5cc6f8"/><path d="M374.300 610 L376.500 603.300 Q377 602 379 601.700 L381.900 604 L384.800 601.700 Q386.800 602 387.300 603.300 L389.500 610z" fill="#5cc6f8"/><path d="M535.700 588.800 L553.600 597.800 V617 L535.700 626 L518.300 617 V597.800z" fill="none" stroke="#5cc6f8" stroke-width="2" stroke-linejoin="round"/><path d="M537 598.300 L530.700 608.300 H540.700 L535.200 617.300" fill="none" stroke="#5cc6f8" stroke-width="2.200" stroke-linejoin="miter"/><path d="M690 589 Q672 587.500 661.500 591.300 Q650 596 649.700 605 Q649.700 612.500 656 615.300 Q663 619.500 671 617 Q683 613 686.500 603.500 Q689 597 690 589z" fill="none" stroke="#5cc6f8" stroke-width="2" stroke-linejoin="round"/><path d="M675 599.700 Q660.500 604 654 615.500 Q650 622 649.300 626.600" fill="none" stroke="#5cc6f8" stroke-width="2" stroke-linecap="round"/><g fill="none" stroke="#5cc6f8" stroke-width="1.200" stroke-linejoin="round" stroke-linecap="round"><path d="M793.800 622.500 H811.400"/><rect x="798.400" y="618.300" width="9.300" height="4.200"/><rect x="800.600" y="609" width="4.600" height="9.300"/><circle cx="802.900" cy="607" r="2.200"/><path d="M801.300 605.300 L813.800 595.300 M804.700 608.600 L817.700 598.800"/><circle cx="816.300" cy="596.900" r="2.600"/><path d="M813.700 594.800 H797.300 V599 H813.700"/><path d="M800.500 597 H811" stroke-dasharray="2 1.500" stroke-width=".8"/><path d="M786 593 H790 Q796.500 593 797 596.900 Q796.500 600.800 790 600.800 H786"/></g><g fill="none" stroke="#5cc6f8" stroke-width="1.300" stroke-linejoin="round" stroke-linecap="round"><path d="M930.700 618.600 V595.600 H955.800 V618.600 H949.700 M940.800 618.600 H931.200"/><path d="M930.700 602.300 H921 Q915.800 602.300 915.800 607.500 V615 Q915.800 618.600 919.400 618.600 H922.300"/><path d="M930.700 610.300 H922.600"/><circle cx="926.700" cy="618.600" r="4.200"/><circle cx="945.200" cy="618.600" r="4.200"/></g></svg>
</div>
</body></html>
